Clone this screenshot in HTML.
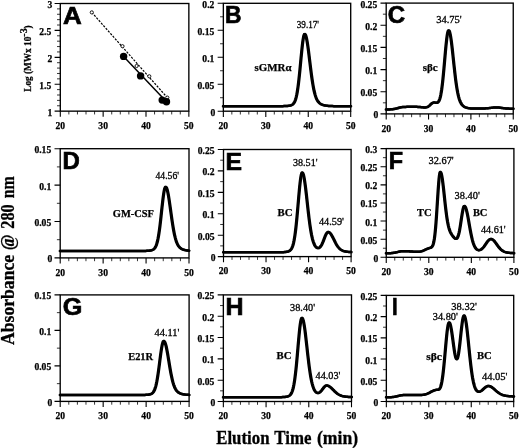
<!DOCTYPE html>
<html><head><meta charset="utf-8"><title>Figure</title>
<style>html,body{margin:0;padding:0;background:#fff}svg{display:block;will-change:transform}</style></head>
<body>
<svg width="520" height="448" viewBox="0 0 520 448">
<rect width="520" height="448" fill="#fff"/>
<g>
<rect x="60.30" y="3.50" width="128.55" height="107.65" fill="none" stroke="#000" stroke-width="1.35"/>
<path d="M60.30 111.15v5.7M103.15 111.15v5.7M146.00 111.15v5.7M188.85 111.15v5.7M60.30 111.15h-5.7M60.30 84.24h-5.7M60.30 57.33h-5.7M60.30 30.41h-5.7M60.30 3.50h-5.7" stroke="#000" stroke-width="1.1" fill="none"/>
<path d="M68.87 111.15v3.3M77.44 111.15v3.3M86.01 111.15v3.3M94.58 111.15v3.3M111.72 111.15v3.3M120.29 111.15v3.3M128.86 111.15v3.3M137.43 111.15v3.3M154.57 111.15v3.3M163.14 111.15v3.3M171.71 111.15v3.3M180.28 111.15v3.3M60.30 105.77h-3.3M60.30 100.39h-3.3M60.30 95.00h-3.3M60.30 89.62h-3.3M60.30 78.85h-3.3M60.30 73.47h-3.3M60.30 68.09h-3.3M60.30 62.71h-3.3M60.30 51.94h-3.3M60.30 46.56h-3.3M60.30 41.18h-3.3M60.30 35.80h-3.3M60.30 25.03h-3.3M60.30 19.65h-3.3M60.30 14.27h-3.3M60.30 8.88h-3.3" stroke="#000" stroke-width="0.8" fill="none"/>
<g font-family='"Liberation Serif", serif' font-weight="bold" font-size="9.6" fill="#000" stroke="#000" stroke-width="0.25">
<text x="60.30" y="128.75" text-anchor="middle">20</text>
<text x="103.15" y="128.75" text-anchor="middle">30</text>
<text x="146.00" y="128.75" text-anchor="middle">40</text>
<text x="188.85" y="128.75" text-anchor="middle">50</text>
<text x="52.30" y="115.65" text-anchor="end">1</text>
<text x="51.30" y="88.74" text-anchor="end">1.5</text>
<text x="52.30" y="61.83" text-anchor="end">2</text>
<text x="51.30" y="34.91" text-anchor="end">2.5</text>
<text x="52.30" y="8.00" text-anchor="end">3</text>
</g>
<text transform="translate(63.10 24.00) scale(1.081 1.017)" font-family='"Liberation Sans", sans-serif' font-weight="bold" font-size="24" fill="#000" stroke="#000" stroke-width="0.7" stroke-linejoin="miter">A</text>
</g>
<g>
<rect x="223.35" y="3.30" width="127.35" height="107.90" fill="none" stroke="#000" stroke-width="1.35"/>
<path d="M223.35 111.20v5.7M265.80 111.20v5.7M308.25 111.20v5.7M350.70 111.20v5.7M223.35 111.20h-5.7M223.35 84.22h-5.7M223.35 57.25h-5.7M223.35 30.28h-5.7M223.35 3.30h-5.7" stroke="#000" stroke-width="1.1" fill="none"/>
<path d="M231.84 111.20v3.3M240.33 111.20v3.3M248.82 111.20v3.3M257.31 111.20v3.3M274.29 111.20v3.3M282.78 111.20v3.3M291.27 111.20v3.3M299.76 111.20v3.3M316.74 111.20v3.3M325.23 111.20v3.3M333.72 111.20v3.3M342.21 111.20v3.3M223.35 97.71h-3.3M223.35 70.74h-3.3M223.35 43.76h-3.3M223.35 16.79h-3.3" stroke="#000" stroke-width="0.8" fill="none"/>
<g font-family='"Liberation Serif", serif' font-weight="bold" font-size="9.6" fill="#000" stroke="#000" stroke-width="0.25">
<text x="223.35" y="128.80" text-anchor="middle">20</text>
<text x="265.80" y="128.80" text-anchor="middle">30</text>
<text x="308.25" y="128.80" text-anchor="middle">40</text>
<text x="350.70" y="128.80" text-anchor="middle">50</text>
<text x="215.35" y="115.70" text-anchor="end">0</text>
<text x="214.35" y="88.72" text-anchor="end">0.05</text>
<text x="214.35" y="61.75" text-anchor="end">0.1</text>
<text x="214.35" y="34.78" text-anchor="end">0.15</text>
<text x="214.35" y="7.80" text-anchor="end">0.2</text>
</g>
<text transform="translate(225.03 22.70) scale(0.950 1.017)" font-family='"Liberation Sans", sans-serif' font-weight="bold" font-size="24" fill="#000" stroke="#000" stroke-width="0.7" stroke-linejoin="miter">B</text>
<g fill="none" stroke="#000" stroke-width="2.5" stroke-linejoin="round" stroke-linecap="round"><polyline points="223.00,106.18 223.42,106.18 223.85,106.18 224.27,106.18 224.70,106.18 225.12,106.18 225.55,106.18 225.97,106.18 226.40,106.18 226.82,106.18 227.25,106.18 227.67,106.18 228.09,106.18 228.52,106.18 228.94,106.18 229.37,106.18 229.79,106.18 230.22,106.18 230.64,106.18 231.07,106.18 231.49,106.18 231.91,106.18 232.34,106.18 232.76,106.18 233.19,106.18 233.61,106.18 234.04,106.18 234.46,106.18 234.89,106.18 235.31,106.18 235.73,106.18 236.16,106.18 236.58,106.18 237.01,106.18 237.43,106.18 237.86,106.18 238.28,106.18 238.71,106.18 239.13,106.18 239.56,106.18 239.98,106.18 240.40,106.18 240.83,106.18 241.25,106.18 241.68,106.18 242.10,106.18 242.53,106.18 242.95,106.18 243.38,106.18 243.80,106.18 244.22,106.18 244.65,106.18 245.07,106.18 245.50,106.18 245.92,106.18 246.35,106.18 246.77,106.18 247.20,106.18 247.62,106.18 248.05,106.18 248.47,106.18 248.89,106.18 249.32,106.18 249.74,106.18 250.17,106.18 250.59,106.18 251.02,106.18 251.44,106.18 251.87,106.18 252.29,106.18 252.72,106.18 253.14,106.18 253.56,106.18 253.99,106.18 254.41,106.18 254.84,106.18 255.26,106.18 255.69,106.18 256.11,106.18 256.54,106.18 256.96,106.18 257.38,106.18 257.81,106.18 258.23,106.18 258.66,106.18 259.08,106.18 259.51,106.18 259.93,106.18 260.36,106.18 260.78,106.18 261.20,106.18 261.63,106.18 262.05,106.18 262.48,106.18 262.90,106.18 263.33,106.18 263.75,106.18 264.18,106.18 264.60,106.18 265.03,106.18 265.45,106.18 265.87,106.18 266.30,106.18 266.72,106.18 267.15,106.18 267.57,106.18 268.00,106.18 268.42,106.18 268.85,106.18 269.27,106.18 269.69,106.18 270.12,106.18 270.54,106.18 270.97,106.18 271.39,106.18 271.82,106.18 272.24,106.18 272.67,106.18 273.09,106.18 273.52,106.18 273.94,106.18 274.36,106.18 274.79,106.18 275.21,106.18 275.64,106.18 276.06,106.18 276.49,106.18 276.91,106.18 277.34,106.18 277.76,106.18 278.18,106.18 278.61,106.18 279.03,106.17 279.46,106.17 279.88,106.17 280.31,106.17 280.73,106.16 281.16,106.16 281.58,106.15 282.01,106.15 282.43,106.14 282.85,106.13 283.28,106.12 283.70,106.11 284.13,106.10 284.55,106.09 284.98,106.07 285.40,106.05 285.83,106.03 286.25,106.00 286.67,105.97 287.10,105.94 287.52,105.90 287.95,105.85 288.37,105.80 288.80,105.74 289.22,105.67 289.65,105.58 290.07,105.48 290.50,105.35 290.92,105.20 291.34,105.02 291.77,104.79 292.19,104.51 292.62,104.17 293.04,103.74 293.47,103.20 293.89,102.54 294.32,101.74 294.74,100.75 295.16,99.56 295.59,98.13 296.01,96.44 296.44,94.46 296.86,92.16 297.29,89.53 297.71,86.56 298.14,83.25 298.56,79.62 298.99,75.70 299.41,71.53 299.83,67.17 300.26,62.70 300.68,58.21 301.11,53.80 301.53,49.59 301.96,45.68 302.38,42.18 302.81,39.21 303.23,36.85 303.65,35.17 304.08,34.24 304.50,34.07 304.93,34.47 305.35,35.35 305.78,36.71 306.20,38.50 306.63,40.69 307.05,43.23 307.48,46.08 307.90,49.18 308.32,52.46 308.75,55.88 309.17,59.37 309.60,62.88 310.02,66.37 310.45,69.78 310.87,73.08 311.30,76.23 311.72,79.21 312.14,82.01 312.57,84.60 312.99,86.99 313.42,89.17 313.84,91.14 314.27,92.91 314.69,94.49 315.12,95.90 315.54,97.14 315.97,98.23 316.39,99.19 316.81,100.02 317.24,100.75 317.66,101.39 318.09,101.94 318.51,102.42 318.94,102.84 319.36,103.21 319.79,103.53 320.21,103.82 320.63,104.07 321.06,104.29 321.48,104.49 321.91,104.67 322.33,104.83 322.76,104.97 323.18,105.10 323.61,105.21 324.03,105.32 324.46,105.41 324.88,105.50 325.30,105.57 325.73,105.64 326.15,105.70 326.58,105.76 327.00,105.81 327.43,105.86 327.85,105.90 328.28,105.93 328.70,105.96 329.12,105.99 329.55,106.02 329.97,106.04 330.40,106.06 330.82,106.07 331.25,106.09 331.67,106.10 332.10,106.11 332.52,106.12 332.95,106.13 333.37,106.14 333.79,106.15 334.22,106.15 334.64,106.16 335.07,106.16 335.49,106.16 335.92,106.17 336.34,106.17 336.77,106.17 337.19,106.17 337.61,106.18 338.04,106.18 338.46,106.18 338.89,106.18 339.31,106.18 339.74,106.18 340.16,106.18 340.59,106.18 341.01,106.18 341.44,106.18 341.86,106.18 342.28,106.18 342.71,106.18 343.13,106.18 343.56,106.18 343.98,106.18 344.41,106.18 344.83,106.18 345.26,106.18 345.68,106.18 346.10,106.18 346.53,106.18 346.95,106.18 347.38,106.18 347.80,106.18 348.23,106.18 348.65,106.18 349.08,106.18 349.50,106.18 349.93,106.18 350.35,106.18"/><polyline points="223.70,106.18 224.12,106.18 224.55,106.18 224.97,106.18 225.40,106.18 225.82,106.18 226.25,106.18 226.67,106.18 227.10,106.18 227.52,106.18 227.94,106.18 228.37,106.18 228.79,106.18 229.22,106.18 229.64,106.18 230.07,106.18 230.49,106.18 230.92,106.18 231.34,106.18 231.77,106.18 232.19,106.18 232.61,106.18 233.04,106.18 233.46,106.18 233.89,106.18 234.31,106.18 234.74,106.18 235.16,106.18 235.59,106.18 236.01,106.18 236.43,106.18 236.86,106.18 237.28,106.18 237.71,106.18 238.13,106.18 238.56,106.18 238.98,106.18 239.41,106.18 239.83,106.18 240.26,106.18 240.68,106.18 241.10,106.18 241.53,106.18 241.95,106.18 242.38,106.18 242.80,106.18 243.23,106.18 243.65,106.18 244.08,106.18 244.50,106.18 244.92,106.18 245.35,106.18 245.77,106.18 246.20,106.18 246.62,106.18 247.05,106.18 247.47,106.18 247.90,106.18 248.32,106.18 248.75,106.18 249.17,106.18 249.59,106.18 250.02,106.18 250.44,106.18 250.87,106.18 251.29,106.18 251.72,106.18 252.14,106.18 252.57,106.18 252.99,106.18 253.41,106.18 253.84,106.18 254.26,106.18 254.69,106.18 255.11,106.18 255.54,106.18 255.96,106.18 256.39,106.18 256.81,106.18 257.24,106.18 257.66,106.18 258.08,106.18 258.51,106.18 258.93,106.18 259.36,106.18 259.78,106.18 260.21,106.18 260.63,106.18 261.06,106.18 261.48,106.18 261.91,106.18 262.33,106.18 262.75,106.18 263.18,106.18 263.60,106.18 264.03,106.18 264.45,106.18 264.88,106.18 265.30,106.18 265.73,106.18 266.15,106.18 266.57,106.18 267.00,106.18 267.42,106.18 267.85,106.18 268.27,106.18 268.70,106.18 269.12,106.18 269.55,106.18 269.97,106.18 270.39,106.18 270.82,106.18 271.24,106.18 271.67,106.18 272.09,106.18 272.52,106.18 272.94,106.18 273.37,106.18 273.79,106.18 274.22,106.18 274.64,106.18 275.06,106.18 275.49,106.18 275.91,106.18 276.34,106.18 276.76,106.18 277.19,106.18 277.61,106.18 278.04,106.18 278.46,106.18 278.88,106.18 279.31,106.18 279.73,106.17 280.16,106.17 280.58,106.17 281.01,106.17 281.43,106.16 281.86,106.16 282.28,106.15 282.71,106.15 283.13,106.14 283.55,106.13 283.98,106.12 284.40,106.11 284.83,106.10 285.25,106.09 285.68,106.07 286.10,106.05 286.53,106.03 286.95,106.00 287.38,105.97 287.80,105.94 288.22,105.90 288.65,105.85 289.07,105.80 289.50,105.74 289.92,105.67 290.35,105.58 290.77,105.48 291.20,105.35 291.62,105.20 292.04,105.02 292.47,104.79 292.89,104.51 293.32,104.17 293.74,103.74 294.17,103.20 294.59,102.54 295.02,101.74 295.44,100.75 295.87,99.56 296.29,98.13 296.71,96.44 297.14,94.46 297.56,92.16 297.99,89.53 298.41,86.56 298.84,83.25 299.26,79.62 299.69,75.70 300.11,71.53 300.53,67.17 300.96,62.70 301.38,58.21 301.81,53.80 302.23,49.59 302.66,45.68 303.08,42.18 303.51,39.21 303.93,36.85 304.36,35.17 304.78,34.24 305.20,34.07 305.63,34.47 306.05,35.35 306.48,36.71 306.90,38.50 307.33,40.69 307.75,43.23 308.18,46.08 308.60,49.18 309.02,52.46 309.45,55.88 309.87,59.37 310.30,62.88 310.72,66.37 311.15,69.78 311.57,73.08 312.00,76.23 312.42,79.21 312.85,82.01 313.27,84.60 313.69,86.99 314.12,89.17 314.54,91.14 314.97,92.91 315.39,94.49 315.82,95.90 316.24,97.14 316.67,98.23 317.09,99.19 317.51,100.02 317.94,100.75 318.36,101.39 318.79,101.94 319.21,102.42 319.64,102.84 320.06,103.21 320.49,103.53 320.91,103.82 321.34,104.07 321.76,104.29 322.18,104.49 322.61,104.67 323.03,104.83 323.46,104.97 323.88,105.10 324.31,105.21 324.73,105.32 325.16,105.41 325.58,105.50 326.00,105.57 326.43,105.64 326.85,105.70 327.28,105.76 327.70,105.81 328.13,105.86 328.55,105.90 328.98,105.93 329.40,105.96 329.83,105.99 330.25,106.02 330.67,106.04 331.10,106.06 331.52,106.07 331.95,106.09 332.37,106.10 332.80,106.11 333.22,106.12 333.65,106.13 334.07,106.14 334.49,106.15 334.92,106.15 335.34,106.16 335.77,106.16 336.19,106.16 336.62,106.17 337.04,106.17 337.47,106.17 337.89,106.17 338.31,106.18 338.74,106.18 339.16,106.18 339.59,106.18 340.01,106.18 340.44,106.18 340.86,106.18 341.29,106.18 341.71,106.18 342.14,106.18 342.56,106.18 342.98,106.18 343.41,106.18 343.83,106.18 344.26,106.18 344.68,106.18 345.11,106.18 345.53,106.18 345.96,106.18 346.38,106.18 346.81,106.18 347.23,106.18 347.65,106.18 348.08,106.18 348.50,106.18 348.93,106.18 349.35,106.18 349.78,106.18 350.20,106.18 350.63,106.18 351.05,106.18"/></g>
</g>
<g>
<rect x="386.20" y="3.10" width="127.05" height="110.80" fill="none" stroke="#000" stroke-width="1.35"/>
<path d="M386.20 113.90v5.7M428.55 113.90v5.7M470.90 113.90v5.7M513.25 113.90v5.7M386.20 113.90h-5.7M386.20 91.74h-5.7M386.20 69.58h-5.7M386.20 47.42h-5.7M386.20 25.26h-5.7M386.20 3.10h-5.7" stroke="#000" stroke-width="1.1" fill="none"/>
<path d="M394.67 113.90v3.3M403.14 113.90v3.3M411.61 113.90v3.3M420.08 113.90v3.3M437.02 113.90v3.3M445.49 113.90v3.3M453.96 113.90v3.3M462.43 113.90v3.3M479.37 113.90v3.3M487.84 113.90v3.3M496.31 113.90v3.3M504.78 113.90v3.3M386.20 102.82h-3.3M386.20 80.66h-3.3M386.20 58.50h-3.3M386.20 36.34h-3.3M386.20 14.18h-3.3" stroke="#000" stroke-width="0.8" fill="none"/>
<g font-family='"Liberation Serif", serif' font-weight="bold" font-size="9.6" fill="#000" stroke="#000" stroke-width="0.25">
<text x="386.20" y="131.50" text-anchor="middle">20</text>
<text x="428.55" y="131.50" text-anchor="middle">30</text>
<text x="470.90" y="131.50" text-anchor="middle">40</text>
<text x="513.25" y="131.50" text-anchor="middle">50</text>
<text x="378.20" y="118.40" text-anchor="end">0</text>
<text x="377.20" y="96.24" text-anchor="end">0.05</text>
<text x="377.20" y="74.08" text-anchor="end">0.1</text>
<text x="377.20" y="51.92" text-anchor="end">0.15</text>
<text x="377.20" y="29.76" text-anchor="end">0.2</text>
<text x="377.20" y="7.60" text-anchor="end">0.25</text>
</g>
<text transform="translate(387.87 22.62) scale(1.001 0.989)" font-family='"Liberation Sans", sans-serif' font-weight="bold" font-size="24" fill="#000" stroke="#000" stroke-width="0.7" stroke-linejoin="miter">C</text>
<g fill="none" stroke="#000" stroke-width="2.5" stroke-linejoin="round" stroke-linecap="round"><polyline points="385.85,109.46 386.27,109.46 386.70,109.45 387.12,109.45 387.54,109.44 387.97,109.43 388.39,109.43 388.81,109.42 389.24,109.40 389.66,109.39 390.08,109.37 390.51,109.34 390.93,109.32 391.36,109.29 391.78,109.25 392.20,109.21 392.63,109.16 393.05,109.10 393.47,109.04 393.90,108.97 394.32,108.90 394.74,108.81 395.17,108.72 395.59,108.62 396.01,108.52 396.44,108.41 396.86,108.30 397.28,108.18 397.71,108.06 398.13,107.94 398.55,107.82 398.98,107.71 399.40,107.59 399.83,107.49 400.25,107.39 400.67,107.29 401.10,107.21 401.52,107.14 401.94,107.09 402.37,107.04 402.79,107.01 403.21,106.99 403.64,106.97 404.06,106.95 404.48,106.93 404.91,106.91 405.33,106.90 405.75,106.88 406.18,106.87 406.60,106.86 407.02,106.85 407.45,106.84 407.87,106.83 408.30,106.82 408.72,106.81 409.14,106.80 409.57,106.80 409.99,106.79 410.41,106.79 410.84,106.78 411.26,106.78 411.68,106.78 412.11,106.78 412.53,106.78 412.95,106.78 413.38,106.78 413.80,106.79 414.22,106.79 414.65,106.80 415.07,106.81 415.49,106.82 415.92,106.84 416.34,106.85 416.77,106.87 417.19,106.89 417.61,106.91 418.04,106.94 418.46,106.97 418.88,107.00 419.31,107.03 419.73,107.07 420.15,107.11 420.58,107.15 421.00,107.19 421.42,107.24 421.85,107.28 422.27,107.32 422.69,107.36 423.12,107.40 423.54,107.43 423.96,107.45 424.39,107.45 424.81,107.45 425.24,107.42 425.66,107.36 426.08,107.28 426.51,107.16 426.93,107.00 427.35,106.81 427.78,106.57 428.20,106.29 428.62,105.97 429.05,105.61 429.47,105.23 429.89,104.83 430.32,104.42 430.74,104.02 431.16,103.65 431.59,103.31 432.01,103.02 432.43,102.80 432.86,102.64 433.28,102.56 433.71,102.53 434.13,102.54 434.55,102.57 434.98,102.62 435.40,102.68 435.82,102.72 436.25,102.73 436.67,102.69 437.09,102.56 437.52,102.32 437.94,101.93 438.36,101.37 438.79,100.59 439.21,99.57 439.63,98.26 440.06,96.62 440.48,94.64 440.90,92.28 441.33,89.53 441.75,86.38 442.18,82.83 442.60,78.92 443.02,74.68 443.45,70.15 443.87,65.42 444.29,60.58 444.72,55.72 445.14,50.97 445.56,46.44 445.99,42.27 446.41,38.56 446.83,35.45 447.26,33.01 447.68,31.34 448.10,30.49 448.53,30.46 448.95,31.05 449.38,32.21 449.80,33.93 450.22,36.15 450.65,38.83 451.07,41.91 451.49,45.31 451.92,48.98 452.34,52.83 452.76,56.79 453.19,60.80 453.61,64.79 454.03,68.71 454.46,72.49 454.88,76.11 455.30,79.53 455.73,82.72 456.15,85.67 456.57,88.38 457.00,90.83 457.42,93.04 457.84,95.01 458.27,96.75 458.69,98.29 459.12,99.64 459.54,100.82 459.96,101.84 460.39,102.72 460.81,103.48 461.23,104.14 461.66,104.71 462.08,105.21 462.50,105.63 462.93,106.00 463.35,106.32 463.77,106.60 464.20,106.85 464.62,107.07 465.04,107.26 465.47,107.43 465.89,107.58 466.31,107.71 466.74,107.83 467.16,107.93 467.59,108.03 468.01,108.11 468.43,108.18 468.86,108.25 469.28,108.30 469.70,108.35 470.13,108.39 470.55,108.43 470.97,108.46 471.40,108.49 471.82,108.51 472.24,108.53 472.67,108.54 473.09,108.56 473.51,108.56 473.94,108.57 474.36,108.58 474.78,108.58 475.21,108.58 475.63,108.58 476.06,108.58 476.48,108.58 476.90,108.57 477.33,108.57 477.75,108.57 478.17,108.56 478.60,108.56 479.02,108.55 479.44,108.54 479.87,108.54 480.29,108.53 480.71,108.52 481.14,108.52 481.56,108.51 481.98,108.50 482.41,108.49 482.83,108.47 483.25,108.46 483.68,108.45 484.10,108.43 484.53,108.41 484.95,108.39 485.37,108.37 485.80,108.35 486.22,108.32 486.64,108.29 487.07,108.25 487.49,108.22 487.91,108.18 488.34,108.13 488.76,108.09 489.18,108.04 489.61,107.99 490.03,107.93 490.45,107.88 490.88,107.83 491.30,107.77 491.72,107.72 492.15,107.67 492.57,107.62 493.00,107.57 493.42,107.53 493.84,107.49 494.27,107.46 494.69,107.44 495.11,107.42 495.54,107.42 495.96,107.41 496.38,107.42 496.81,107.44 497.23,107.46 497.65,107.49 498.08,107.52 498.50,107.57 498.92,107.61 499.35,107.66 499.77,107.72 500.19,107.78 500.62,107.84 501.04,107.90 501.47,107.96 501.89,108.02 502.31,108.07 502.74,108.13 503.16,108.19 503.58,108.24 504.01,108.29 504.43,108.33 504.85,108.37 505.28,108.41 505.70,108.45 506.12,108.48 506.55,108.51 506.97,108.54 507.39,108.56 507.82,108.58 508.24,108.60 508.66,108.62 509.09,108.63 509.51,108.65 509.94,108.66 510.36,108.67 510.78,108.68 511.21,108.69 511.63,108.70 512.05,108.71 512.48,108.72 512.90,108.73"/><polyline points="386.55,109.46 386.97,109.46 387.40,109.45 387.82,109.45 388.24,109.44 388.67,109.43 389.09,109.43 389.51,109.42 389.94,109.40 390.36,109.39 390.79,109.37 391.21,109.34 391.63,109.32 392.06,109.29 392.48,109.25 392.90,109.21 393.33,109.16 393.75,109.10 394.17,109.04 394.60,108.97 395.02,108.90 395.44,108.81 395.87,108.72 396.29,108.62 396.71,108.52 397.14,108.41 397.56,108.30 397.98,108.18 398.41,108.06 398.83,107.94 399.25,107.82 399.68,107.71 400.10,107.59 400.53,107.49 400.95,107.39 401.37,107.29 401.80,107.21 402.22,107.14 402.64,107.09 403.07,107.04 403.49,107.01 403.91,106.99 404.34,106.97 404.76,106.95 405.18,106.93 405.61,106.91 406.03,106.90 406.45,106.88 406.88,106.87 407.30,106.86 407.73,106.85 408.15,106.84 408.57,106.83 409.00,106.82 409.42,106.81 409.84,106.80 410.27,106.80 410.69,106.79 411.11,106.79 411.54,106.78 411.96,106.78 412.38,106.78 412.81,106.78 413.23,106.78 413.65,106.78 414.08,106.78 414.50,106.79 414.92,106.79 415.35,106.80 415.77,106.81 416.19,106.82 416.62,106.84 417.04,106.85 417.47,106.87 417.89,106.89 418.31,106.91 418.74,106.94 419.16,106.97 419.58,107.00 420.01,107.03 420.43,107.07 420.85,107.11 421.28,107.15 421.70,107.19 422.12,107.24 422.55,107.28 422.97,107.32 423.39,107.36 423.82,107.40 424.24,107.43 424.67,107.45 425.09,107.45 425.51,107.45 425.94,107.42 426.36,107.36 426.78,107.28 427.21,107.16 427.63,107.00 428.05,106.81 428.48,106.57 428.90,106.29 429.32,105.97 429.75,105.61 430.17,105.23 430.59,104.83 431.02,104.42 431.44,104.02 431.86,103.65 432.29,103.31 432.71,103.02 433.13,102.80 433.56,102.64 433.98,102.56 434.41,102.53 434.83,102.54 435.25,102.57 435.68,102.62 436.10,102.68 436.52,102.72 436.95,102.73 437.37,102.69 437.79,102.56 438.22,102.32 438.64,101.93 439.06,101.37 439.49,100.59 439.91,99.57 440.33,98.26 440.76,96.62 441.18,94.64 441.61,92.28 442.03,89.53 442.45,86.38 442.88,82.83 443.30,78.92 443.72,74.68 444.15,70.15 444.57,65.42 444.99,60.58 445.42,55.72 445.84,50.97 446.26,46.44 446.69,42.27 447.11,38.56 447.53,35.45 447.96,33.01 448.38,31.34 448.80,30.49 449.23,30.46 449.65,31.05 450.08,32.21 450.50,33.93 450.92,36.15 451.35,38.83 451.77,41.91 452.19,45.31 452.62,48.98 453.04,52.83 453.46,56.79 453.89,60.80 454.31,64.79 454.73,68.71 455.16,72.49 455.58,76.11 456.00,79.53 456.43,82.72 456.85,85.67 457.27,88.38 457.70,90.83 458.12,93.04 458.55,95.01 458.97,96.75 459.39,98.29 459.82,99.64 460.24,100.82 460.66,101.84 461.09,102.72 461.51,103.48 461.93,104.14 462.36,104.71 462.78,105.21 463.20,105.63 463.63,106.00 464.05,106.32 464.47,106.60 464.90,106.85 465.32,107.07 465.74,107.26 466.17,107.43 466.59,107.58 467.01,107.71 467.44,107.83 467.86,107.93 468.29,108.03 468.71,108.11 469.13,108.18 469.56,108.25 469.98,108.30 470.40,108.35 470.83,108.39 471.25,108.43 471.67,108.46 472.10,108.49 472.52,108.51 472.94,108.53 473.37,108.54 473.79,108.56 474.21,108.56 474.64,108.57 475.06,108.58 475.49,108.58 475.91,108.58 476.33,108.58 476.76,108.58 477.18,108.58 477.60,108.57 478.03,108.57 478.45,108.57 478.87,108.56 479.30,108.56 479.72,108.55 480.14,108.54 480.57,108.54 480.99,108.53 481.41,108.52 481.84,108.52 482.26,108.51 482.68,108.50 483.11,108.49 483.53,108.47 483.96,108.46 484.38,108.45 484.80,108.43 485.23,108.41 485.65,108.39 486.07,108.37 486.50,108.35 486.92,108.32 487.34,108.29 487.77,108.25 488.19,108.22 488.61,108.18 489.04,108.13 489.46,108.09 489.88,108.04 490.31,107.99 490.73,107.93 491.15,107.88 491.58,107.83 492.00,107.77 492.43,107.72 492.85,107.67 493.27,107.62 493.70,107.57 494.12,107.53 494.54,107.49 494.97,107.46 495.39,107.44 495.81,107.42 496.24,107.42 496.66,107.41 497.08,107.42 497.51,107.44 497.93,107.46 498.35,107.49 498.78,107.52 499.20,107.57 499.62,107.61 500.05,107.66 500.47,107.72 500.90,107.78 501.32,107.84 501.74,107.90 502.17,107.96 502.59,108.02 503.01,108.07 503.44,108.13 503.86,108.19 504.28,108.24 504.71,108.29 505.13,108.33 505.55,108.37 505.98,108.41 506.40,108.45 506.82,108.48 507.25,108.51 507.67,108.54 508.09,108.56 508.52,108.58 508.94,108.60 509.37,108.62 509.79,108.63 510.21,108.65 510.64,108.66 511.06,108.67 511.48,108.68 511.91,108.69 512.33,108.70 512.75,108.71 513.18,108.72 513.60,108.73"/></g>
</g>
<g>
<rect x="60.20" y="148.70" width="128.80" height="109.20" fill="none" stroke="#000" stroke-width="1.35"/>
<path d="M60.20 257.90v5.7M103.13 257.90v5.7M146.07 257.90v5.7M189.00 257.90v5.7M60.20 257.90h-5.7M60.20 221.50h-5.7M60.20 185.10h-5.7M60.20 148.70h-5.7" stroke="#000" stroke-width="1.1" fill="none"/>
<path d="M68.79 257.90v3.3M77.37 257.90v3.3M85.96 257.90v3.3M94.55 257.90v3.3M111.72 257.90v3.3M120.31 257.90v3.3M128.89 257.90v3.3M137.48 257.90v3.3M154.65 257.90v3.3M163.24 257.90v3.3M171.83 257.90v3.3M180.41 257.90v3.3M60.20 239.70h-3.3M60.20 203.30h-3.3M60.20 166.90h-3.3" stroke="#000" stroke-width="0.8" fill="none"/>
<g font-family='"Liberation Serif", serif' font-weight="bold" font-size="9.6" fill="#000" stroke="#000" stroke-width="0.25">
<text x="60.20" y="275.50" text-anchor="middle">20</text>
<text x="103.13" y="275.50" text-anchor="middle">30</text>
<text x="146.07" y="275.50" text-anchor="middle">40</text>
<text x="189.00" y="275.50" text-anchor="middle">50</text>
<text x="52.20" y="262.40" text-anchor="end">0</text>
<text x="51.20" y="226.00" text-anchor="end">0.05</text>
<text x="51.20" y="189.60" text-anchor="end">0.1</text>
<text x="51.20" y="153.20" text-anchor="end">0.15</text>
</g>
<text transform="translate(62.55 168.80) scale(0.999 1.017)" font-family='"Liberation Sans", sans-serif' font-weight="bold" font-size="24" fill="#000" stroke="#000" stroke-width="0.7" stroke-linejoin="miter">D</text>
<g fill="none" stroke="#000" stroke-width="2.5" stroke-linejoin="round" stroke-linecap="round"><polyline points="59.85,250.98 60.28,250.98 60.71,250.98 61.14,250.98 61.57,250.98 62.00,250.98 62.43,250.98 62.86,250.98 63.28,250.98 63.71,250.98 64.14,250.98 64.57,250.98 65.00,250.98 65.43,250.98 65.86,250.98 66.29,250.98 66.72,250.98 67.15,250.98 67.58,250.98 68.01,250.98 68.44,250.98 68.87,250.98 69.30,250.98 69.72,250.98 70.15,250.98 70.58,250.98 71.01,250.98 71.44,250.98 71.87,250.98 72.30,250.98 72.73,250.98 73.16,250.98 73.59,250.98 74.02,250.98 74.45,250.98 74.88,250.98 75.31,250.98 75.74,250.98 76.16,250.98 76.59,250.98 77.02,250.98 77.45,250.98 77.88,250.98 78.31,250.98 78.74,250.98 79.17,250.98 79.60,250.98 80.03,250.98 80.46,250.98 80.89,250.98 81.32,250.98 81.75,250.98 82.18,250.98 82.60,250.98 83.03,250.98 83.46,250.98 83.89,250.98 84.32,250.98 84.75,250.98 85.18,250.98 85.61,250.98 86.04,250.98 86.47,250.98 86.90,250.98 87.33,250.98 87.76,250.98 88.19,250.98 88.62,250.98 89.04,250.98 89.47,250.98 89.90,250.98 90.33,250.98 90.76,250.98 91.19,250.98 91.62,250.98 92.05,250.98 92.48,250.98 92.91,250.98 93.34,250.98 93.77,250.98 94.20,250.98 94.63,250.98 95.06,250.98 95.48,250.98 95.91,250.98 96.34,250.98 96.77,250.98 97.20,250.98 97.63,250.98 98.06,250.98 98.49,250.98 98.92,250.98 99.35,250.98 99.78,250.98 100.21,250.98 100.64,250.98 101.07,250.98 101.50,250.98 101.92,250.98 102.35,250.98 102.78,250.98 103.21,250.98 103.64,250.98 104.07,250.98 104.50,250.98 104.93,250.98 105.36,250.98 105.79,250.98 106.22,250.98 106.65,250.98 107.08,250.98 107.51,250.98 107.94,250.98 108.36,250.98 108.79,250.98 109.22,250.98 109.65,250.98 110.08,250.98 110.51,250.98 110.94,250.98 111.37,250.98 111.80,250.98 112.23,250.98 112.66,250.98 113.09,250.98 113.52,250.98 113.95,250.98 114.38,250.98 114.80,250.98 115.23,250.98 115.66,250.98 116.09,250.98 116.52,250.98 116.95,250.98 117.38,250.98 117.81,250.98 118.24,250.98 118.67,250.98 119.10,250.98 119.53,250.98 119.96,250.98 120.39,250.98 120.82,250.98 121.24,250.98 121.67,250.98 122.10,250.98 122.53,250.98 122.96,250.98 123.39,250.98 123.82,250.98 124.25,250.98 124.68,250.98 125.11,250.98 125.54,250.98 125.97,250.98 126.40,250.98 126.83,250.98 127.26,250.98 127.68,250.98 128.11,250.98 128.54,250.98 128.97,250.98 129.40,250.98 129.83,250.98 130.26,250.98 130.69,250.98 131.12,250.98 131.55,250.98 131.98,250.98 132.41,250.98 132.84,250.98 133.27,250.98 133.70,250.98 134.12,250.98 134.55,250.98 134.98,250.98 135.41,250.98 135.84,250.98 136.27,250.98 136.70,250.98 137.13,250.98 137.56,250.98 137.99,250.98 138.42,250.98 138.85,250.98 139.28,250.98 139.71,250.98 140.14,250.97 140.56,250.97 140.99,250.97 141.42,250.97 141.85,250.96 142.28,250.96 142.71,250.95 143.14,250.95 143.57,250.94 144.00,250.93 144.43,250.92 144.86,250.91 145.29,250.90 145.72,250.88 146.15,250.86 146.58,250.84 147.00,250.82 147.43,250.79 147.86,250.76 148.29,250.73 148.72,250.69 149.15,250.64 149.58,250.58 150.01,250.52 150.44,250.44 150.87,250.35 151.30,250.24 151.73,250.10 152.16,249.93 152.59,249.73 153.02,249.47 153.44,249.16 153.87,248.77 154.30,248.28 154.73,247.69 155.16,246.95 155.59,246.06 156.02,244.99 156.45,243.70 156.88,242.17 157.31,240.38 157.74,238.31 158.17,235.95 158.60,233.28 159.03,230.31 159.46,227.06 159.88,223.55 160.31,219.82 160.74,215.94 161.17,211.96 161.60,207.98 162.03,204.08 162.46,200.36 162.89,196.92 163.32,193.86 163.75,191.26 164.18,189.23 164.61,187.80 165.04,187.04 165.47,186.96 165.90,187.35 166.32,188.18 166.75,189.42 167.18,191.05 167.61,193.03 168.04,195.32 168.47,197.87 168.90,200.64 169.33,203.57 169.76,206.61 170.19,209.72 170.62,212.84 171.05,215.93 171.48,218.95 171.91,221.87 172.34,224.65 172.76,227.29 173.19,229.75 173.62,232.04 174.05,234.14 174.48,236.05 174.91,237.79 175.34,239.34 175.77,240.73 176.20,241.97 176.63,243.06 177.06,244.01 177.49,244.85 177.92,245.58 178.35,246.22 178.78,246.78 179.20,247.26 179.63,247.68 180.06,248.05 180.49,248.38 180.92,248.66 181.35,248.91 181.78,249.13 182.21,249.32 182.64,249.50 183.07,249.65 183.50,249.79 183.93,249.92 184.36,250.03 184.79,250.13 185.22,250.22 185.64,250.31 186.07,250.38 186.50,250.45 186.93,250.51 187.36,250.56 187.79,250.61 188.22,250.66 188.65,250.70"/><polyline points="60.55,250.98 60.98,250.98 61.41,250.98 61.84,250.98 62.27,250.98 62.70,250.98 63.13,250.98 63.56,250.98 63.98,250.98 64.41,250.98 64.84,250.98 65.27,250.98 65.70,250.98 66.13,250.98 66.56,250.98 66.99,250.98 67.42,250.98 67.85,250.98 68.28,250.98 68.71,250.98 69.14,250.98 69.57,250.98 70.00,250.98 70.42,250.98 70.85,250.98 71.28,250.98 71.71,250.98 72.14,250.98 72.57,250.98 73.00,250.98 73.43,250.98 73.86,250.98 74.29,250.98 74.72,250.98 75.15,250.98 75.58,250.98 76.01,250.98 76.44,250.98 76.86,250.98 77.29,250.98 77.72,250.98 78.15,250.98 78.58,250.98 79.01,250.98 79.44,250.98 79.87,250.98 80.30,250.98 80.73,250.98 81.16,250.98 81.59,250.98 82.02,250.98 82.45,250.98 82.88,250.98 83.30,250.98 83.73,250.98 84.16,250.98 84.59,250.98 85.02,250.98 85.45,250.98 85.88,250.98 86.31,250.98 86.74,250.98 87.17,250.98 87.60,250.98 88.03,250.98 88.46,250.98 88.89,250.98 89.32,250.98 89.74,250.98 90.17,250.98 90.60,250.98 91.03,250.98 91.46,250.98 91.89,250.98 92.32,250.98 92.75,250.98 93.18,250.98 93.61,250.98 94.04,250.98 94.47,250.98 94.90,250.98 95.33,250.98 95.76,250.98 96.18,250.98 96.61,250.98 97.04,250.98 97.47,250.98 97.90,250.98 98.33,250.98 98.76,250.98 99.19,250.98 99.62,250.98 100.05,250.98 100.48,250.98 100.91,250.98 101.34,250.98 101.77,250.98 102.20,250.98 102.62,250.98 103.05,250.98 103.48,250.98 103.91,250.98 104.34,250.98 104.77,250.98 105.20,250.98 105.63,250.98 106.06,250.98 106.49,250.98 106.92,250.98 107.35,250.98 107.78,250.98 108.21,250.98 108.64,250.98 109.06,250.98 109.49,250.98 109.92,250.98 110.35,250.98 110.78,250.98 111.21,250.98 111.64,250.98 112.07,250.98 112.50,250.98 112.93,250.98 113.36,250.98 113.79,250.98 114.22,250.98 114.65,250.98 115.08,250.98 115.50,250.98 115.93,250.98 116.36,250.98 116.79,250.98 117.22,250.98 117.65,250.98 118.08,250.98 118.51,250.98 118.94,250.98 119.37,250.98 119.80,250.98 120.23,250.98 120.66,250.98 121.09,250.98 121.52,250.98 121.94,250.98 122.37,250.98 122.80,250.98 123.23,250.98 123.66,250.98 124.09,250.98 124.52,250.98 124.95,250.98 125.38,250.98 125.81,250.98 126.24,250.98 126.67,250.98 127.10,250.98 127.53,250.98 127.96,250.98 128.38,250.98 128.81,250.98 129.24,250.98 129.67,250.98 130.10,250.98 130.53,250.98 130.96,250.98 131.39,250.98 131.82,250.98 132.25,250.98 132.68,250.98 133.11,250.98 133.54,250.98 133.97,250.98 134.40,250.98 134.82,250.98 135.25,250.98 135.68,250.98 136.11,250.98 136.54,250.98 136.97,250.98 137.40,250.98 137.83,250.98 138.26,250.98 138.69,250.98 139.12,250.98 139.55,250.98 139.98,250.98 140.41,250.98 140.84,250.97 141.26,250.97 141.69,250.97 142.12,250.97 142.55,250.96 142.98,250.96 143.41,250.95 143.84,250.95 144.27,250.94 144.70,250.93 145.13,250.92 145.56,250.91 145.99,250.90 146.42,250.88 146.85,250.86 147.28,250.84 147.70,250.82 148.13,250.79 148.56,250.76 148.99,250.73 149.42,250.69 149.85,250.64 150.28,250.58 150.71,250.52 151.14,250.44 151.57,250.35 152.00,250.24 152.43,250.10 152.86,249.93 153.29,249.73 153.72,249.47 154.14,249.16 154.57,248.77 155.00,248.28 155.43,247.69 155.86,246.95 156.29,246.06 156.72,244.99 157.15,243.70 157.58,242.17 158.01,240.38 158.44,238.31 158.87,235.95 159.30,233.28 159.73,230.31 160.16,227.06 160.58,223.55 161.01,219.82 161.44,215.94 161.87,211.96 162.30,207.98 162.73,204.08 163.16,200.36 163.59,196.92 164.02,193.86 164.45,191.26 164.88,189.23 165.31,187.80 165.74,187.04 166.17,186.96 166.60,187.35 167.02,188.18 167.45,189.42 167.88,191.05 168.31,193.03 168.74,195.32 169.17,197.87 169.60,200.64 170.03,203.57 170.46,206.61 170.89,209.72 171.32,212.84 171.75,215.93 172.18,218.95 172.61,221.87 173.04,224.65 173.46,227.29 173.89,229.75 174.32,232.04 174.75,234.14 175.18,236.05 175.61,237.79 176.04,239.34 176.47,240.73 176.90,241.97 177.33,243.06 177.76,244.01 178.19,244.85 178.62,245.58 179.05,246.22 179.48,246.78 179.90,247.26 180.33,247.68 180.76,248.05 181.19,248.38 181.62,248.66 182.05,248.91 182.48,249.13 182.91,249.32 183.34,249.50 183.77,249.65 184.20,249.79 184.63,249.92 185.06,250.03 185.49,250.13 185.92,250.22 186.34,250.31 186.77,250.38 187.20,250.45 187.63,250.51 188.06,250.56 188.49,250.61 188.92,250.66 189.35,250.70"/></g>
</g>
<g>
<rect x="223.50" y="149.50" width="127.60" height="107.10" fill="none" stroke="#000" stroke-width="1.35"/>
<path d="M223.50 256.60v5.7M266.03 256.60v5.7M308.57 256.60v5.7M351.10 256.60v5.7M223.50 256.60h-5.7M223.50 235.18h-5.7M223.50 213.76h-5.7M223.50 192.34h-5.7M223.50 170.92h-5.7M223.50 149.50h-5.7" stroke="#000" stroke-width="1.1" fill="none"/>
<path d="M232.01 256.60v3.3M240.51 256.60v3.3M249.02 256.60v3.3M257.53 256.60v3.3M274.54 256.60v3.3M283.05 256.60v3.3M291.55 256.60v3.3M300.06 256.60v3.3M317.07 256.60v3.3M325.58 256.60v3.3M334.09 256.60v3.3M342.59 256.60v3.3M223.50 245.89h-3.3M223.50 224.47h-3.3M223.50 203.05h-3.3M223.50 181.63h-3.3M223.50 160.21h-3.3" stroke="#000" stroke-width="0.8" fill="none"/>
<g font-family='"Liberation Serif", serif' font-weight="bold" font-size="9.6" fill="#000" stroke="#000" stroke-width="0.25">
<text x="223.50" y="274.20" text-anchor="middle">20</text>
<text x="266.03" y="274.20" text-anchor="middle">30</text>
<text x="308.57" y="274.20" text-anchor="middle">40</text>
<text x="351.10" y="274.20" text-anchor="middle">50</text>
<text x="215.50" y="261.10" text-anchor="end">0</text>
<text x="214.50" y="239.68" text-anchor="end">0.05</text>
<text x="214.50" y="218.26" text-anchor="end">0.1</text>
<text x="214.50" y="196.84" text-anchor="end">0.15</text>
<text x="214.50" y="175.42" text-anchor="end">0.2</text>
<text x="214.50" y="154.00" text-anchor="end">0.25</text>
</g>
<text transform="translate(225.59 169.70) scale(1.032 1.017)" font-family='"Liberation Sans", sans-serif' font-weight="bold" font-size="24" fill="#000" stroke="#000" stroke-width="0.7" stroke-linejoin="miter">E</text>
<g fill="none" stroke="#000" stroke-width="2.5" stroke-linejoin="round" stroke-linecap="round"><polyline points="223.15,252.32 223.58,252.32 224.00,252.32 224.43,252.32 224.85,252.32 225.28,252.32 225.70,252.32 226.13,252.32 226.55,252.32 226.98,252.32 227.40,252.32 227.83,252.32 228.25,252.32 228.68,252.32 229.10,252.32 229.53,252.32 229.96,252.32 230.38,252.32 230.81,252.32 231.23,252.32 231.66,252.32 232.08,252.32 232.51,252.32 232.93,252.32 233.36,252.32 233.78,252.32 234.21,252.32 234.63,252.32 235.06,252.32 235.48,252.32 235.91,252.32 236.34,252.32 236.76,252.32 237.19,252.32 237.61,252.32 238.04,252.32 238.46,252.32 238.89,252.32 239.31,252.32 239.74,252.32 240.16,252.32 240.59,252.32 241.01,252.32 241.44,252.32 241.86,252.32 242.29,252.32 242.72,252.32 243.14,252.32 243.57,252.32 243.99,252.32 244.42,252.32 244.84,252.32 245.27,252.32 245.69,252.32 246.12,252.32 246.54,252.32 246.97,252.32 247.39,252.32 247.82,252.32 248.24,252.32 248.67,252.32 249.10,252.32 249.52,252.32 249.95,252.32 250.37,252.32 250.80,252.32 251.22,252.32 251.65,252.32 252.07,252.32 252.50,252.32 252.92,252.32 253.35,252.32 253.77,252.32 254.20,252.32 254.62,252.32 255.05,252.32 255.48,252.32 255.90,252.32 256.33,252.32 256.75,252.32 257.18,252.32 257.60,252.32 258.03,252.32 258.45,252.32 258.88,252.32 259.30,252.32 259.73,252.32 260.15,252.32 260.58,252.32 261.00,252.32 261.43,252.32 261.86,252.32 262.28,252.32 262.71,252.32 263.13,252.32 263.56,252.32 263.98,252.32 264.41,252.32 264.83,252.32 265.26,252.32 265.68,252.32 266.11,252.32 266.53,252.32 266.96,252.32 267.38,252.32 267.81,252.32 268.24,252.32 268.66,252.32 269.09,252.32 269.51,252.32 269.94,252.32 270.36,252.32 270.79,252.32 271.21,252.32 271.64,252.32 272.06,252.32 272.49,252.31 272.91,252.31 273.34,252.31 273.76,252.31 274.19,252.31 274.62,252.31 275.04,252.31 275.47,252.31 275.89,252.31 276.32,252.31 276.74,252.31 277.17,252.30 277.59,252.30 278.02,252.30 278.44,252.29 278.87,252.29 279.29,252.28 279.72,252.27 280.14,252.27 280.57,252.26 281.00,252.24 281.42,252.23 281.85,252.22 282.27,252.20 282.70,252.18 283.12,252.15 283.55,252.13 283.97,252.10 284.40,252.06 284.82,252.02 285.25,251.97 285.67,251.92 286.10,251.85 286.52,251.78 286.95,251.69 287.38,251.58 287.80,251.46 288.23,251.31 288.65,251.12 289.08,250.89 289.50,250.61 289.93,250.25 290.35,249.82 290.78,249.27 291.20,248.61 291.63,247.78 292.05,246.78 292.48,245.56 292.90,244.09 293.33,242.34 293.76,240.28 294.18,237.89 294.61,235.13 295.03,232.00 295.46,228.49 295.88,224.62 296.31,220.41 296.73,215.90 297.16,211.16 297.58,206.26 298.01,201.30 298.43,196.38 298.86,191.62 299.28,187.15 299.71,183.10 300.14,179.57 300.56,176.68 300.99,174.51 301.41,173.15 301.84,172.63 302.26,172.85 302.69,173.61 303.11,174.90 303.54,176.69 303.96,178.94 304.39,181.60 304.81,184.61 305.24,187.93 305.66,191.48 306.09,195.20 306.52,199.03 306.94,202.91 307.37,206.77 307.79,210.57 308.22,214.26 308.64,217.80 309.07,221.17 309.49,224.33 309.92,227.28 310.34,230.00 310.77,232.48 311.19,234.73 311.62,236.76 312.04,238.57 312.47,240.17 312.90,241.59 313.32,242.82 313.75,243.89 314.17,244.81 314.60,245.60 315.02,246.27 315.45,246.82 315.87,247.26 316.30,247.61 316.72,247.87 317.15,248.03 317.57,248.11 318.00,248.10 318.42,248.00 318.85,247.80 319.28,247.52 319.70,247.13 320.13,246.65 320.55,246.06 320.98,245.38 321.40,244.60 321.83,243.74 322.25,242.79 322.68,241.77 323.10,240.70 323.53,239.60 323.95,238.49 324.38,237.39 324.80,236.32 325.23,235.33 325.66,234.42 326.08,233.63 326.51,232.98 326.93,232.49 327.36,232.17 327.78,232.04 328.21,232.08 328.63,232.23 329.06,232.47 329.48,232.82 329.91,233.26 330.33,233.78 330.76,234.38 331.18,235.05 331.61,235.78 332.04,236.56 332.46,237.37 332.89,238.21 333.31,239.07 333.74,239.93 334.16,240.79 334.59,241.64 335.01,242.47 335.44,243.27 335.86,244.03 336.29,244.76 336.71,245.45 337.14,246.10 337.56,246.70 337.99,247.26 338.42,247.77 338.84,248.24 339.27,248.66 339.69,249.05 340.12,249.40 340.54,249.71 340.97,249.99 341.39,250.23 341.82,250.45 342.24,250.65 342.67,250.82 343.09,250.98 343.52,251.11 343.94,251.24 344.37,251.34 344.80,251.44 345.22,251.52 345.65,251.60 346.07,251.67 346.50,251.73 346.92,251.78 347.35,251.83 347.77,251.88 348.20,251.92 348.62,251.95 349.05,251.99 349.47,252.02 349.90,252.05 350.32,252.07 350.75,252.10"/><polyline points="223.85,252.32 224.28,252.32 224.70,252.32 225.13,252.32 225.55,252.32 225.98,252.32 226.40,252.32 226.83,252.32 227.25,252.32 227.68,252.32 228.10,252.32 228.53,252.32 228.95,252.32 229.38,252.32 229.80,252.32 230.23,252.32 230.66,252.32 231.08,252.32 231.51,252.32 231.93,252.32 232.36,252.32 232.78,252.32 233.21,252.32 233.63,252.32 234.06,252.32 234.48,252.32 234.91,252.32 235.33,252.32 235.76,252.32 236.18,252.32 236.61,252.32 237.04,252.32 237.46,252.32 237.89,252.32 238.31,252.32 238.74,252.32 239.16,252.32 239.59,252.32 240.01,252.32 240.44,252.32 240.86,252.32 241.29,252.32 241.71,252.32 242.14,252.32 242.56,252.32 242.99,252.32 243.42,252.32 243.84,252.32 244.27,252.32 244.69,252.32 245.12,252.32 245.54,252.32 245.97,252.32 246.39,252.32 246.82,252.32 247.24,252.32 247.67,252.32 248.09,252.32 248.52,252.32 248.94,252.32 249.37,252.32 249.80,252.32 250.22,252.32 250.65,252.32 251.07,252.32 251.50,252.32 251.92,252.32 252.35,252.32 252.77,252.32 253.20,252.32 253.62,252.32 254.05,252.32 254.47,252.32 254.90,252.32 255.32,252.32 255.75,252.32 256.18,252.32 256.60,252.32 257.03,252.32 257.45,252.32 257.88,252.32 258.30,252.32 258.73,252.32 259.15,252.32 259.58,252.32 260.00,252.32 260.43,252.32 260.85,252.32 261.28,252.32 261.70,252.32 262.13,252.32 262.56,252.32 262.98,252.32 263.41,252.32 263.83,252.32 264.26,252.32 264.68,252.32 265.11,252.32 265.53,252.32 265.96,252.32 266.38,252.32 266.81,252.32 267.23,252.32 267.66,252.32 268.08,252.32 268.51,252.32 268.94,252.32 269.36,252.32 269.79,252.32 270.21,252.32 270.64,252.32 271.06,252.32 271.49,252.32 271.91,252.32 272.34,252.32 272.76,252.32 273.19,252.31 273.61,252.31 274.04,252.31 274.46,252.31 274.89,252.31 275.32,252.31 275.74,252.31 276.17,252.31 276.59,252.31 277.02,252.31 277.44,252.31 277.87,252.30 278.29,252.30 278.72,252.30 279.14,252.29 279.57,252.29 279.99,252.28 280.42,252.27 280.84,252.27 281.27,252.26 281.70,252.24 282.12,252.23 282.55,252.22 282.97,252.20 283.40,252.18 283.82,252.15 284.25,252.13 284.67,252.10 285.10,252.06 285.52,252.02 285.95,251.97 286.37,251.92 286.80,251.85 287.22,251.78 287.65,251.69 288.08,251.58 288.50,251.46 288.93,251.31 289.35,251.12 289.78,250.89 290.20,250.61 290.63,250.25 291.05,249.82 291.48,249.27 291.90,248.61 292.33,247.78 292.75,246.78 293.18,245.56 293.60,244.09 294.03,242.34 294.46,240.28 294.88,237.89 295.31,235.13 295.73,232.00 296.16,228.49 296.58,224.62 297.01,220.41 297.43,215.90 297.86,211.16 298.28,206.26 298.71,201.30 299.13,196.38 299.56,191.62 299.98,187.15 300.41,183.10 300.84,179.57 301.26,176.68 301.69,174.51 302.11,173.15 302.54,172.63 302.96,172.85 303.39,173.61 303.81,174.90 304.24,176.69 304.66,178.94 305.09,181.60 305.51,184.61 305.94,187.93 306.36,191.48 306.79,195.20 307.22,199.03 307.64,202.91 308.07,206.77 308.49,210.57 308.92,214.26 309.34,217.80 309.77,221.17 310.19,224.33 310.62,227.28 311.04,230.00 311.47,232.48 311.89,234.73 312.32,236.76 312.74,238.57 313.17,240.17 313.60,241.59 314.02,242.82 314.45,243.89 314.87,244.81 315.30,245.60 315.72,246.27 316.15,246.82 316.57,247.26 317.00,247.61 317.42,247.87 317.85,248.03 318.27,248.11 318.70,248.10 319.12,248.00 319.55,247.80 319.98,247.52 320.40,247.13 320.83,246.65 321.25,246.06 321.68,245.38 322.10,244.60 322.53,243.74 322.95,242.79 323.38,241.77 323.80,240.70 324.23,239.60 324.65,238.49 325.08,237.39 325.50,236.32 325.93,235.33 326.36,234.42 326.78,233.63 327.21,232.98 327.63,232.49 328.06,232.17 328.48,232.04 328.91,232.08 329.33,232.23 329.76,232.47 330.18,232.82 330.61,233.26 331.03,233.78 331.46,234.38 331.88,235.05 332.31,235.78 332.74,236.56 333.16,237.37 333.59,238.21 334.01,239.07 334.44,239.93 334.86,240.79 335.29,241.64 335.71,242.47 336.14,243.27 336.56,244.03 336.99,244.76 337.41,245.45 337.84,246.10 338.26,246.70 338.69,247.26 339.12,247.77 339.54,248.24 339.97,248.66 340.39,249.05 340.82,249.40 341.24,249.71 341.67,249.99 342.09,250.23 342.52,250.45 342.94,250.65 343.37,250.82 343.79,250.98 344.22,251.11 344.64,251.24 345.07,251.34 345.50,251.44 345.92,251.52 346.35,251.60 346.77,251.67 347.20,251.73 347.62,251.78 348.05,251.83 348.47,251.88 348.90,251.92 349.32,251.95 349.75,251.99 350.17,252.02 350.60,252.05 351.02,252.07 351.45,252.10"/></g>
</g>
<g>
<rect x="386.25" y="148.60" width="127.65" height="108.70" fill="none" stroke="#000" stroke-width="1.35"/>
<path d="M386.25 257.30v5.7M428.80 257.30v5.7M471.35 257.30v5.7M513.90 257.30v5.7M386.25 257.30h-5.7M386.25 239.18h-5.7M386.25 221.07h-5.7M386.25 202.95h-5.7M386.25 184.83h-5.7M386.25 166.72h-5.7M386.25 148.60h-5.7" stroke="#000" stroke-width="1.1" fill="none"/>
<path d="M394.76 257.30v3.3M403.27 257.30v3.3M411.78 257.30v3.3M420.29 257.30v3.3M437.31 257.30v3.3M445.82 257.30v3.3M454.33 257.30v3.3M462.84 257.30v3.3M479.86 257.30v3.3M488.37 257.30v3.3M496.88 257.30v3.3M505.39 257.30v3.3M386.25 248.24h-3.3M386.25 230.12h-3.3M386.25 212.01h-3.3M386.25 193.89h-3.3M386.25 175.78h-3.3M386.25 157.66h-3.3" stroke="#000" stroke-width="0.8" fill="none"/>
<g font-family='"Liberation Serif", serif' font-weight="bold" font-size="9.6" fill="#000" stroke="#000" stroke-width="0.25">
<text x="386.25" y="274.90" text-anchor="middle">20</text>
<text x="428.80" y="274.90" text-anchor="middle">30</text>
<text x="471.35" y="274.90" text-anchor="middle">40</text>
<text x="513.90" y="274.90" text-anchor="middle">50</text>
<text x="378.25" y="261.80" text-anchor="end">0</text>
<text x="377.25" y="243.68" text-anchor="end">0.05</text>
<text x="377.25" y="225.57" text-anchor="end">0.1</text>
<text x="377.25" y="207.45" text-anchor="end">0.15</text>
<text x="377.25" y="189.33" text-anchor="end">0.2</text>
<text x="377.25" y="171.22" text-anchor="end">0.25</text>
<text x="377.25" y="153.10" text-anchor="end">0.3</text>
</g>
<text transform="translate(388.78 169.15) scale(0.977 1.017)" font-family='"Liberation Sans", sans-serif' font-weight="bold" font-size="24" fill="#000" stroke="#000" stroke-width="0.7" stroke-linejoin="miter">F</text>
<g fill="none" stroke="#000" stroke-width="2.5" stroke-linejoin="round" stroke-linecap="round"><polyline points="385.90,253.30 386.33,253.29 386.75,253.28 387.18,253.28 387.60,253.27 388.03,253.26 388.45,253.24 388.88,253.23 389.30,253.21 389.73,253.19 390.15,253.16 390.58,253.13 391.01,253.10 391.43,253.06 391.86,253.02 392.28,252.97 392.71,252.92 393.13,252.86 393.56,252.80 393.98,252.72 394.41,252.65 394.84,252.57 395.26,252.48 395.69,252.39 396.11,252.29 396.54,252.20 396.96,252.10 397.39,252.00 397.81,251.89 398.24,251.79 398.66,251.70 399.09,251.60 399.52,251.52 399.94,251.43 400.37,251.36 400.79,251.30 401.22,251.24 401.64,251.20 402.07,251.17 402.49,251.15 402.92,251.14 403.35,251.14 403.77,251.15 404.20,251.15 404.62,251.16 405.05,251.17 405.47,251.18 405.90,251.20 406.32,251.22 406.75,251.24 407.17,251.26 407.60,251.28 408.03,251.31 408.45,251.33 408.88,251.36 409.30,251.39 409.73,251.42 410.15,251.45 410.58,251.49 411.00,251.52 411.43,251.56 411.86,251.59 412.28,251.62 412.71,251.66 413.13,251.69 413.56,251.72 413.98,251.75 414.41,251.77 414.83,251.80 415.26,251.82 415.68,251.83 416.11,251.84 416.54,251.84 416.96,251.84 417.39,251.82 417.81,251.80 418.24,251.77 418.66,251.73 419.09,251.68 419.51,251.61 419.94,251.54 420.37,251.45 420.79,251.34 421.22,251.23 421.64,251.10 422.07,250.96 422.49,250.80 422.92,250.63 423.34,250.46 423.77,250.27 424.19,250.08 424.62,249.88 425.05,249.68 425.47,249.48 425.90,249.29 426.32,249.09 426.75,248.91 427.17,248.74 427.60,248.57 428.02,248.42 428.45,248.28 428.88,248.15 429.30,248.03 429.73,247.90 430.15,247.75 430.58,247.56 431.00,247.31 431.43,246.95 431.85,246.44 432.28,245.71 432.70,244.69 433.13,243.28 433.56,241.40 433.98,238.96 434.41,235.87 434.83,232.07 435.26,227.54 435.68,222.30 436.11,216.42 436.53,210.03 436.96,203.35 437.39,196.61 437.81,190.13 438.24,184.22 438.66,179.20 439.09,175.35 439.51,172.90 439.94,172.00 440.36,172.25 440.79,173.19 441.21,174.79 441.64,176.98 442.07,179.71 442.49,182.88 442.92,186.41 443.34,190.18 443.77,194.10 444.19,198.08 444.62,202.02 445.04,205.85 445.47,209.50 445.90,212.92 446.32,216.08 446.75,218.95 447.17,221.52 447.60,223.79 448.02,225.79 448.45,227.52 448.87,229.01 449.30,230.29 449.72,231.40 450.15,232.36 450.58,233.20 451.00,233.95 451.43,234.63 451.85,235.25 452.28,235.84 452.70,236.39 453.13,236.92 453.55,237.41 453.98,237.85 454.41,238.24 454.83,238.55 455.26,238.76 455.68,238.83 456.11,238.74 456.53,238.45 456.96,237.93 457.38,237.13 457.81,236.05 458.23,234.66 458.66,232.95 459.09,230.94 459.51,228.64 459.94,226.09 460.36,223.37 460.79,220.54 461.21,217.69 461.64,214.94 462.06,212.39 462.49,210.15 462.92,208.32 463.34,206.99 463.77,206.24 464.19,206.09 464.62,206.43 465.04,207.11 465.47,208.11 465.89,209.42 466.32,211.00 466.74,212.83 467.17,214.86 467.60,217.06 468.02,219.38 468.45,221.77 468.87,224.19 469.30,226.61 469.72,228.98 470.15,231.27 470.57,233.46 471.00,235.53 471.43,237.46 471.85,239.23 472.28,240.86 472.70,242.32 473.13,243.63 473.55,244.79 473.98,245.81 474.40,246.69 474.83,247.45 475.25,248.09 475.68,248.63 476.11,249.08 476.53,249.44 476.96,249.72 477.38,249.93 477.81,250.07 478.23,250.15 478.66,250.17 479.08,250.13 479.51,250.04 479.94,249.90 480.36,249.70 480.79,249.46 481.21,249.16 481.64,248.81 482.06,248.42 482.49,247.98 482.91,247.50 483.34,246.97 483.76,246.42 484.19,245.83 484.62,245.22 485.04,244.60 485.47,243.96 485.89,243.33 486.32,242.71 486.74,242.10 487.17,241.53 487.59,241.00 488.02,240.51 488.45,240.08 488.87,239.72 489.30,239.43 489.72,239.21 490.15,239.08 490.57,239.04 491.00,239.07 491.42,239.18 491.85,239.36 492.27,239.60 492.70,239.91 493.13,240.28 493.55,240.70 493.98,241.17 494.40,241.67 494.83,242.21 495.25,242.78 495.68,243.36 496.10,243.96 496.53,244.56 496.96,245.16 497.38,245.75 497.81,246.32 498.23,246.88 498.66,247.41 499.08,247.92 499.51,248.41 499.93,248.86 500.36,249.28 500.78,249.68 501.21,250.04 501.64,250.37 502.06,250.67 502.49,250.95 502.91,251.19 503.34,251.42 503.76,251.62 504.19,251.79 504.61,251.95 505.04,252.10 505.47,252.22 505.89,252.33 506.32,252.43 506.74,252.52 507.17,252.60 507.59,252.67 508.02,252.73 508.44,252.78 508.87,252.83 509.29,252.88 509.72,252.92 510.15,252.96 510.57,252.99 511.00,253.02 511.42,253.04 511.85,253.07 512.27,253.09 512.70,253.11 513.12,253.13 513.55,253.15"/><polyline points="386.60,253.30 387.03,253.29 387.45,253.28 387.88,253.28 388.30,253.27 388.73,253.26 389.15,253.24 389.58,253.23 390.00,253.21 390.43,253.19 390.86,253.16 391.28,253.13 391.71,253.10 392.13,253.06 392.56,253.02 392.98,252.97 393.41,252.92 393.83,252.86 394.26,252.80 394.68,252.72 395.11,252.65 395.54,252.57 395.96,252.48 396.39,252.39 396.81,252.29 397.24,252.20 397.66,252.10 398.09,252.00 398.51,251.89 398.94,251.79 399.37,251.70 399.79,251.60 400.22,251.52 400.64,251.43 401.07,251.36 401.49,251.30 401.92,251.24 402.34,251.20 402.77,251.17 403.19,251.15 403.62,251.14 404.05,251.14 404.47,251.15 404.90,251.15 405.32,251.16 405.75,251.17 406.17,251.18 406.60,251.20 407.02,251.22 407.45,251.24 407.88,251.26 408.30,251.28 408.73,251.31 409.15,251.33 409.58,251.36 410.00,251.39 410.43,251.42 410.85,251.45 411.28,251.49 411.70,251.52 412.13,251.56 412.56,251.59 412.98,251.62 413.41,251.66 413.83,251.69 414.26,251.72 414.68,251.75 415.11,251.77 415.53,251.80 415.96,251.82 416.38,251.83 416.81,251.84 417.24,251.84 417.66,251.84 418.09,251.82 418.51,251.80 418.94,251.77 419.36,251.73 419.79,251.68 420.21,251.61 420.64,251.54 421.07,251.45 421.49,251.34 421.92,251.23 422.34,251.10 422.77,250.96 423.19,250.80 423.62,250.63 424.04,250.46 424.47,250.27 424.90,250.08 425.32,249.88 425.75,249.68 426.17,249.48 426.60,249.29 427.02,249.09 427.45,248.91 427.87,248.74 428.30,248.57 428.72,248.42 429.15,248.28 429.58,248.15 430.00,248.03 430.43,247.90 430.85,247.75 431.28,247.56 431.70,247.31 432.13,246.95 432.55,246.44 432.98,245.71 433.41,244.69 433.83,243.28 434.26,241.40 434.68,238.96 435.11,235.87 435.53,232.07 435.96,227.54 436.38,222.30 436.81,216.42 437.23,210.03 437.66,203.35 438.09,196.61 438.51,190.13 438.94,184.22 439.36,179.20 439.79,175.35 440.21,172.90 440.64,172.00 441.06,172.25 441.49,173.19 441.92,174.79 442.34,176.98 442.77,179.71 443.19,182.88 443.62,186.41 444.04,190.18 444.47,194.10 444.89,198.08 445.32,202.02 445.74,205.85 446.17,209.50 446.60,212.92 447.02,216.08 447.45,218.95 447.87,221.52 448.30,223.79 448.72,225.79 449.15,227.52 449.57,229.01 450.00,230.29 450.43,231.40 450.85,232.36 451.28,233.20 451.70,233.95 452.13,234.63 452.55,235.25 452.98,235.84 453.40,236.39 453.83,236.92 454.25,237.41 454.68,237.85 455.11,238.24 455.53,238.55 455.96,238.76 456.38,238.83 456.81,238.74 457.23,238.45 457.66,237.93 458.08,237.13 458.51,236.05 458.94,234.66 459.36,232.95 459.79,230.94 460.21,228.64 460.64,226.09 461.06,223.37 461.49,220.54 461.91,217.69 462.34,214.94 462.76,212.39 463.19,210.15 463.62,208.32 464.04,206.99 464.47,206.24 464.89,206.09 465.32,206.43 465.74,207.11 466.17,208.11 466.59,209.42 467.02,211.00 467.44,212.83 467.87,214.86 468.30,217.06 468.72,219.38 469.15,221.77 469.57,224.19 470.00,226.61 470.42,228.98 470.85,231.27 471.27,233.46 471.70,235.53 472.13,237.46 472.55,239.23 472.98,240.86 473.40,242.32 473.83,243.63 474.25,244.79 474.68,245.81 475.10,246.69 475.53,247.45 475.95,248.09 476.38,248.63 476.81,249.08 477.23,249.44 477.66,249.72 478.08,249.93 478.51,250.07 478.93,250.15 479.36,250.17 479.78,250.13 480.21,250.04 480.64,249.90 481.06,249.70 481.49,249.46 481.91,249.16 482.34,248.81 482.76,248.42 483.19,247.98 483.61,247.50 484.04,246.97 484.47,246.42 484.89,245.83 485.32,245.22 485.74,244.60 486.17,243.96 486.59,243.33 487.02,242.71 487.44,242.10 487.87,241.53 488.29,241.00 488.72,240.51 489.15,240.08 489.57,239.72 490.00,239.43 490.42,239.21 490.85,239.08 491.27,239.04 491.70,239.07 492.12,239.18 492.55,239.36 492.98,239.60 493.40,239.91 493.83,240.28 494.25,240.70 494.68,241.17 495.10,241.67 495.53,242.21 495.95,242.78 496.38,243.36 496.80,243.96 497.23,244.56 497.66,245.16 498.08,245.75 498.51,246.32 498.93,246.88 499.36,247.41 499.78,247.92 500.21,248.41 500.63,248.86 501.06,249.28 501.49,249.68 501.91,250.04 502.34,250.37 502.76,250.67 503.19,250.95 503.61,251.19 504.04,251.42 504.46,251.62 504.89,251.79 505.31,251.95 505.74,252.10 506.17,252.22 506.59,252.33 507.02,252.43 507.44,252.52 507.87,252.60 508.29,252.67 508.72,252.73 509.14,252.78 509.57,252.83 510.00,252.88 510.42,252.92 510.85,252.96 511.27,252.99 511.70,253.02 512.12,253.04 512.55,253.07 512.97,253.09 513.40,253.11 513.82,253.13 514.25,253.15"/></g>
</g>
<g>
<rect x="60.20" y="294.90" width="128.90" height="106.50" fill="none" stroke="#000" stroke-width="1.35"/>
<path d="M60.20 401.40v5.7M103.17 401.40v5.7M146.13 401.40v5.7M189.10 401.40v5.7M60.20 401.40h-5.7M60.20 365.90h-5.7M60.20 330.40h-5.7M60.20 294.90h-5.7" stroke="#000" stroke-width="1.1" fill="none"/>
<path d="M68.79 401.40v3.3M77.39 401.40v3.3M85.98 401.40v3.3M94.57 401.40v3.3M111.76 401.40v3.3M120.35 401.40v3.3M128.95 401.40v3.3M137.54 401.40v3.3M154.73 401.40v3.3M163.32 401.40v3.3M171.91 401.40v3.3M180.51 401.40v3.3M60.20 383.65h-3.3M60.20 348.15h-3.3M60.20 312.65h-3.3" stroke="#000" stroke-width="0.8" fill="none"/>
<g font-family='"Liberation Serif", serif' font-weight="bold" font-size="9.6" fill="#000" stroke="#000" stroke-width="0.25">
<text x="60.20" y="419.00" text-anchor="middle">20</text>
<text x="103.17" y="419.00" text-anchor="middle">30</text>
<text x="146.13" y="419.00" text-anchor="middle">40</text>
<text x="189.10" y="419.00" text-anchor="middle">50</text>
<text x="52.20" y="405.90" text-anchor="end">0</text>
<text x="51.20" y="370.40" text-anchor="end">0.05</text>
<text x="51.20" y="334.90" text-anchor="end">0.1</text>
<text x="51.20" y="299.40" text-anchor="end">0.15</text>
</g>
<text transform="translate(62.82 315.27) scale(1.050 0.989)" font-family='"Liberation Sans", sans-serif' font-weight="bold" font-size="24" fill="#000" stroke="#000" stroke-width="0.7" stroke-linejoin="miter">G</text>
<g fill="none" stroke="#000" stroke-width="2.5" stroke-linejoin="round" stroke-linecap="round"><polyline points="59.85,395.01 60.28,395.01 60.71,395.01 61.14,395.01 61.57,395.01 62.00,395.01 62.43,395.01 62.86,395.01 63.29,395.01 63.72,395.01 64.15,395.01 64.58,395.01 65.01,395.01 65.44,395.01 65.87,395.01 66.30,395.01 66.72,395.01 67.15,395.01 67.58,395.01 68.01,395.01 68.44,395.01 68.87,395.01 69.30,395.01 69.73,395.01 70.16,395.01 70.59,395.01 71.02,395.01 71.45,395.01 71.88,395.01 72.31,395.01 72.74,395.01 73.17,395.01 73.60,395.01 74.03,395.01 74.46,395.01 74.89,395.01 75.32,395.01 75.75,395.01 76.18,395.01 76.61,395.01 77.04,395.01 77.47,395.01 77.90,395.01 78.33,395.01 78.76,395.01 79.19,395.01 79.61,395.01 80.04,395.01 80.47,395.01 80.90,395.01 81.33,395.01 81.76,395.01 82.19,395.01 82.62,395.01 83.05,395.01 83.48,395.01 83.91,395.01 84.34,395.01 84.77,395.01 85.20,395.01 85.63,395.01 86.06,395.01 86.49,395.01 86.92,395.01 87.35,395.01 87.78,395.01 88.21,395.01 88.64,395.01 89.07,395.01 89.50,395.01 89.93,395.01 90.36,395.01 90.79,395.01 91.22,395.01 91.65,395.01 92.08,395.01 92.50,395.01 92.93,395.01 93.36,395.01 93.79,395.01 94.22,395.01 94.65,395.01 95.08,395.01 95.51,395.01 95.94,395.01 96.37,395.01 96.80,395.01 97.23,395.01 97.66,395.01 98.09,395.01 98.52,395.01 98.95,395.01 99.38,395.01 99.81,395.01 100.24,395.01 100.67,395.01 101.10,395.01 101.53,395.01 101.96,395.01 102.39,395.01 102.82,395.01 103.25,395.01 103.68,395.01 104.11,395.01 104.54,395.01 104.97,395.01 105.39,395.01 105.82,395.01 106.25,395.01 106.68,395.01 107.11,395.01 107.54,395.01 107.97,395.01 108.40,395.01 108.83,395.01 109.26,395.01 109.69,395.01 110.12,395.01 110.55,395.01 110.98,395.01 111.41,395.01 111.84,395.01 112.27,395.01 112.70,395.01 113.13,395.01 113.56,395.01 113.99,395.01 114.42,395.01 114.85,395.01 115.28,395.01 115.71,395.01 116.14,395.01 116.57,395.01 117.00,395.01 117.43,395.01 117.85,395.01 118.28,395.01 118.71,395.01 119.14,395.01 119.57,395.01 120.00,395.01 120.43,395.01 120.86,395.01 121.29,395.01 121.72,395.01 122.15,395.01 122.58,395.01 123.01,395.01 123.44,395.01 123.87,395.01 124.30,395.01 124.73,395.01 125.16,395.01 125.59,395.01 126.02,395.01 126.45,395.01 126.88,395.01 127.31,395.01 127.74,395.01 128.17,395.01 128.60,395.01 129.03,395.01 129.46,395.01 129.89,395.01 130.32,395.01 130.75,395.01 131.17,395.01 131.60,395.01 132.03,395.01 132.46,395.01 132.89,395.01 133.32,395.01 133.75,395.01 134.18,395.01 134.61,395.01 135.04,395.01 135.47,395.01 135.90,395.01 136.33,395.01 136.76,395.01 137.19,395.01 137.62,395.00 138.05,395.00 138.48,395.00 138.91,395.00 139.34,395.00 139.77,394.99 140.20,394.99 140.63,394.99 141.06,394.98 141.49,394.98 141.92,394.97 142.35,394.96 142.78,394.95 143.21,394.94 143.63,394.93 144.06,394.92 144.49,394.90 144.92,394.88 145.35,394.86 145.78,394.84 146.21,394.81 146.64,394.78 147.07,394.74 147.50,394.70 147.93,394.65 148.36,394.59 148.79,394.51 149.22,394.43 149.65,394.33 150.08,394.20 150.51,394.04 150.94,393.85 151.37,393.61 151.80,393.32 152.23,392.95 152.66,392.50 153.09,391.94 153.52,391.26 153.95,390.43 154.38,389.44 154.81,388.25 155.24,386.86 155.67,385.24 156.10,383.37 156.53,381.25 156.95,378.88 157.38,376.26 157.81,373.40 158.24,370.35 158.67,367.14 159.10,363.82 159.53,360.46 159.96,357.13 160.39,353.91 160.82,350.88 161.25,348.14 161.68,345.75 162.11,343.79 162.54,342.32 162.97,341.40 163.40,341.05 163.83,341.20 164.26,341.72 164.69,342.59 165.12,343.80 165.55,345.32 165.98,347.13 166.41,349.17 166.84,351.42 167.27,353.83 167.70,356.35 168.13,358.94 168.56,361.57 168.99,364.19 169.41,366.77 169.84,369.27 170.27,371.67 170.70,373.96 171.13,376.11 171.56,378.11 171.99,379.96 172.42,381.65 172.85,383.18 173.28,384.57 173.71,385.81 174.14,386.91 174.57,387.89 175.00,388.75 175.43,389.50 175.86,390.16 176.29,390.74 176.72,391.24 177.15,391.68 177.58,392.06 178.01,392.39 178.44,392.68 178.87,392.94 179.30,393.16 179.73,393.36 180.16,393.53 180.59,393.69 181.02,393.83 181.45,393.95 181.88,394.06 182.30,394.16 182.73,394.25 183.16,394.33 183.59,394.41 184.02,394.47 184.45,394.53 184.88,394.59 185.31,394.63 185.74,394.68 186.17,394.72 186.60,394.75 187.03,394.78 187.46,394.81 187.89,394.84 188.32,394.86 188.75,394.88"/><polyline points="60.55,395.01 60.98,395.01 61.41,395.01 61.84,395.01 62.27,395.01 62.70,395.01 63.13,395.01 63.56,395.01 63.99,395.01 64.42,395.01 64.85,395.01 65.28,395.01 65.71,395.01 66.14,395.01 66.57,395.01 66.99,395.01 67.42,395.01 67.85,395.01 68.28,395.01 68.71,395.01 69.14,395.01 69.57,395.01 70.00,395.01 70.43,395.01 70.86,395.01 71.29,395.01 71.72,395.01 72.15,395.01 72.58,395.01 73.01,395.01 73.44,395.01 73.87,395.01 74.30,395.01 74.73,395.01 75.16,395.01 75.59,395.01 76.02,395.01 76.45,395.01 76.88,395.01 77.31,395.01 77.74,395.01 78.17,395.01 78.60,395.01 79.03,395.01 79.46,395.01 79.88,395.01 80.31,395.01 80.74,395.01 81.17,395.01 81.60,395.01 82.03,395.01 82.46,395.01 82.89,395.01 83.32,395.01 83.75,395.01 84.18,395.01 84.61,395.01 85.04,395.01 85.47,395.01 85.90,395.01 86.33,395.01 86.76,395.01 87.19,395.01 87.62,395.01 88.05,395.01 88.48,395.01 88.91,395.01 89.34,395.01 89.77,395.01 90.20,395.01 90.63,395.01 91.06,395.01 91.49,395.01 91.92,395.01 92.35,395.01 92.77,395.01 93.20,395.01 93.63,395.01 94.06,395.01 94.49,395.01 94.92,395.01 95.35,395.01 95.78,395.01 96.21,395.01 96.64,395.01 97.07,395.01 97.50,395.01 97.93,395.01 98.36,395.01 98.79,395.01 99.22,395.01 99.65,395.01 100.08,395.01 100.51,395.01 100.94,395.01 101.37,395.01 101.80,395.01 102.23,395.01 102.66,395.01 103.09,395.01 103.52,395.01 103.95,395.01 104.38,395.01 104.81,395.01 105.24,395.01 105.66,395.01 106.09,395.01 106.52,395.01 106.95,395.01 107.38,395.01 107.81,395.01 108.24,395.01 108.67,395.01 109.10,395.01 109.53,395.01 109.96,395.01 110.39,395.01 110.82,395.01 111.25,395.01 111.68,395.01 112.11,395.01 112.54,395.01 112.97,395.01 113.40,395.01 113.83,395.01 114.26,395.01 114.69,395.01 115.12,395.01 115.55,395.01 115.98,395.01 116.41,395.01 116.84,395.01 117.27,395.01 117.70,395.01 118.13,395.01 118.55,395.01 118.98,395.01 119.41,395.01 119.84,395.01 120.27,395.01 120.70,395.01 121.13,395.01 121.56,395.01 121.99,395.01 122.42,395.01 122.85,395.01 123.28,395.01 123.71,395.01 124.14,395.01 124.57,395.01 125.00,395.01 125.43,395.01 125.86,395.01 126.29,395.01 126.72,395.01 127.15,395.01 127.58,395.01 128.01,395.01 128.44,395.01 128.87,395.01 129.30,395.01 129.73,395.01 130.16,395.01 130.59,395.01 131.02,395.01 131.44,395.01 131.87,395.01 132.30,395.01 132.73,395.01 133.16,395.01 133.59,395.01 134.02,395.01 134.45,395.01 134.88,395.01 135.31,395.01 135.74,395.01 136.17,395.01 136.60,395.01 137.03,395.01 137.46,395.01 137.89,395.01 138.32,395.00 138.75,395.00 139.18,395.00 139.61,395.00 140.04,395.00 140.47,394.99 140.90,394.99 141.33,394.99 141.76,394.98 142.19,394.98 142.62,394.97 143.05,394.96 143.48,394.95 143.91,394.94 144.33,394.93 144.76,394.92 145.19,394.90 145.62,394.88 146.05,394.86 146.48,394.84 146.91,394.81 147.34,394.78 147.77,394.74 148.20,394.70 148.63,394.65 149.06,394.59 149.49,394.51 149.92,394.43 150.35,394.33 150.78,394.20 151.21,394.04 151.64,393.85 152.07,393.61 152.50,393.32 152.93,392.95 153.36,392.50 153.79,391.94 154.22,391.26 154.65,390.43 155.08,389.44 155.51,388.25 155.94,386.86 156.37,385.24 156.80,383.37 157.22,381.25 157.65,378.88 158.08,376.26 158.51,373.40 158.94,370.35 159.37,367.14 159.80,363.82 160.23,360.46 160.66,357.13 161.09,353.91 161.52,350.88 161.95,348.14 162.38,345.75 162.81,343.79 163.24,342.32 163.67,341.40 164.10,341.05 164.53,341.20 164.96,341.72 165.39,342.59 165.82,343.80 166.25,345.32 166.68,347.13 167.11,349.17 167.54,351.42 167.97,353.83 168.40,356.35 168.83,358.94 169.26,361.57 169.69,364.19 170.11,366.77 170.54,369.27 170.97,371.67 171.40,373.96 171.83,376.11 172.26,378.11 172.69,379.96 173.12,381.65 173.55,383.18 173.98,384.57 174.41,385.81 174.84,386.91 175.27,387.89 175.70,388.75 176.13,389.50 176.56,390.16 176.99,390.74 177.42,391.24 177.85,391.68 178.28,392.06 178.71,392.39 179.14,392.68 179.57,392.94 180.00,393.16 180.43,393.36 180.86,393.53 181.29,393.69 181.72,393.83 182.15,393.95 182.58,394.06 183.00,394.16 183.43,394.25 183.86,394.33 184.29,394.41 184.72,394.47 185.15,394.53 185.58,394.59 186.01,394.63 186.44,394.68 186.87,394.72 187.30,394.75 187.73,394.78 188.16,394.81 188.59,394.84 189.02,394.86 189.45,394.88"/></g>
</g>
<g>
<rect x="223.35" y="294.90" width="128.15" height="106.60" fill="none" stroke="#000" stroke-width="1.35"/>
<path d="M223.35 401.50v5.7M266.07 401.50v5.7M308.78 401.50v5.7M351.50 401.50v5.7M223.35 401.50h-5.7M223.35 380.18h-5.7M223.35 358.86h-5.7M223.35 337.54h-5.7M223.35 316.22h-5.7M223.35 294.90h-5.7" stroke="#000" stroke-width="1.1" fill="none"/>
<path d="M231.89 401.50v3.3M240.44 401.50v3.3M248.98 401.50v3.3M257.52 401.50v3.3M274.61 401.50v3.3M283.15 401.50v3.3M291.70 401.50v3.3M300.24 401.50v3.3M317.33 401.50v3.3M325.87 401.50v3.3M334.41 401.50v3.3M342.96 401.50v3.3M223.35 390.84h-3.3M223.35 369.52h-3.3M223.35 348.20h-3.3M223.35 326.88h-3.3M223.35 305.56h-3.3" stroke="#000" stroke-width="0.8" fill="none"/>
<g font-family='"Liberation Serif", serif' font-weight="bold" font-size="9.6" fill="#000" stroke="#000" stroke-width="0.25">
<text x="223.35" y="419.10" text-anchor="middle">20</text>
<text x="266.07" y="419.10" text-anchor="middle">30</text>
<text x="308.78" y="419.10" text-anchor="middle">40</text>
<text x="351.50" y="419.10" text-anchor="middle">50</text>
<text x="215.35" y="406.00" text-anchor="end">0</text>
<text x="214.35" y="384.68" text-anchor="end">0.05</text>
<text x="214.35" y="363.36" text-anchor="end">0.1</text>
<text x="214.35" y="342.04" text-anchor="end">0.15</text>
<text x="214.35" y="320.72" text-anchor="end">0.2</text>
<text x="214.35" y="299.40" text-anchor="end">0.25</text>
</g>
<text transform="translate(225.58 314.95) scale(1.042 1.017)" font-family='"Liberation Sans", sans-serif' font-weight="bold" font-size="24" fill="#000" stroke="#000" stroke-width="0.7" stroke-linejoin="miter">H</text>
<g fill="none" stroke="#000" stroke-width="2.5" stroke-linejoin="round" stroke-linecap="round"><polyline points="223.00,397.24 223.43,397.24 223.85,397.24 224.28,397.24 224.71,397.24 225.14,397.24 225.56,397.24 225.99,397.24 226.42,397.24 226.84,397.24 227.27,397.24 227.70,397.24 228.13,397.24 228.55,397.24 228.98,397.24 229.41,397.24 229.83,397.24 230.26,397.24 230.69,397.24 231.12,397.24 231.54,397.24 231.97,397.24 232.40,397.24 232.82,397.24 233.25,397.24 233.68,397.24 234.11,397.24 234.53,397.24 234.96,397.24 235.39,397.24 235.81,397.24 236.24,397.24 236.67,397.24 237.10,397.24 237.52,397.24 237.95,397.24 238.38,397.24 238.81,397.24 239.23,397.24 239.66,397.24 240.09,397.24 240.51,397.24 240.94,397.24 241.37,397.24 241.80,397.24 242.22,397.24 242.65,397.24 243.08,397.24 243.50,397.24 243.93,397.24 244.36,397.24 244.79,397.24 245.21,397.24 245.64,397.24 246.07,397.24 246.49,397.24 246.92,397.24 247.35,397.24 247.78,397.24 248.20,397.24 248.63,397.24 249.06,397.24 249.48,397.24 249.91,397.24 250.34,397.24 250.77,397.24 251.19,397.24 251.62,397.24 252.05,397.24 252.47,397.24 252.90,397.24 253.33,397.24 253.76,397.24 254.18,397.24 254.61,397.24 255.04,397.24 255.46,397.24 255.89,397.24 256.32,397.24 256.75,397.24 257.17,397.24 257.60,397.24 258.03,397.24 258.45,397.24 258.88,397.24 259.31,397.24 259.74,397.24 260.16,397.24 260.59,397.24 261.02,397.24 261.44,397.24 261.87,397.24 262.30,397.24 262.73,397.24 263.15,397.24 263.58,397.24 264.01,397.24 264.44,397.24 264.86,397.24 265.29,397.24 265.72,397.24 266.14,397.24 266.57,397.24 267.00,397.24 267.43,397.24 267.85,397.24 268.28,397.24 268.71,397.24 269.13,397.24 269.56,397.24 269.99,397.24 270.42,397.24 270.84,397.24 271.27,397.24 271.70,397.24 272.12,397.23 272.55,397.23 272.98,397.23 273.41,397.23 273.83,397.23 274.26,397.23 274.69,397.23 275.11,397.23 275.54,397.23 275.97,397.23 276.40,397.23 276.82,397.22 277.25,397.22 277.68,397.22 278.10,397.21 278.53,397.21 278.96,397.20 279.39,397.19 279.81,397.19 280.24,397.18 280.67,397.16 281.09,397.15 281.52,397.14 281.95,397.12 282.38,397.10 282.80,397.07 283.23,397.05 283.66,397.01 284.08,396.98 284.51,396.94 284.94,396.89 285.37,396.83 285.79,396.77 286.22,396.69 286.65,396.60 287.07,396.50 287.50,396.37 287.93,396.21 288.36,396.02 288.78,395.79 289.21,395.50 289.64,395.14 290.07,394.70 290.49,394.15 290.92,393.47 291.35,392.63 291.77,391.61 292.20,390.37 292.63,388.89 293.06,387.12 293.48,385.04 293.91,382.62 294.34,379.83 294.76,376.68 295.19,373.15 295.62,369.27 296.05,365.04 296.47,360.53 296.90,355.79 297.33,350.90 297.75,345.96 298.18,341.08 298.61,336.37 299.04,331.95 299.46,327.96 299.89,324.51 300.32,321.70 300.74,319.62 301.17,318.35 301.60,317.92 302.03,318.19 302.45,319.01 302.88,320.34 303.31,322.17 303.73,324.45 304.16,327.13 304.59,330.17 305.02,333.50 305.44,337.05 305.87,340.77 306.30,344.59 306.72,348.44 307.15,352.29 307.58,356.06 308.01,359.72 308.43,363.23 308.86,366.57 309.29,369.70 309.71,372.61 310.14,375.29 310.57,377.74 311.00,379.96 311.42,381.95 311.85,383.73 312.28,385.31 312.70,386.70 313.13,387.90 313.56,388.95 313.99,389.85 314.41,390.62 314.84,391.26 315.27,391.79 315.70,392.21 316.12,392.54 316.55,392.78 316.98,392.93 317.40,393.00 317.83,393.00 318.26,392.91 318.69,392.75 319.11,392.52 319.54,392.22 319.97,391.86 320.39,391.43 320.82,390.95 321.25,390.43 321.68,389.88 322.10,389.30 322.53,388.71 322.96,388.14 323.38,387.58 323.81,387.06 324.24,386.60 324.67,386.20 325.09,385.88 325.52,385.65 325.95,385.53 326.37,385.50 326.80,385.56 327.23,385.65 327.66,385.78 328.08,385.96 328.51,386.17 328.94,386.43 329.36,386.71 329.79,387.03 330.22,387.37 330.65,387.74 331.07,388.13 331.50,388.53 331.93,388.95 332.35,389.37 332.78,389.80 333.21,390.23 333.64,390.66 334.06,391.08 334.49,391.49 334.92,391.89 335.34,392.28 335.77,392.65 336.20,393.01 336.63,393.35 337.05,393.67 337.48,393.97 337.91,394.25 338.33,394.51 338.76,394.75 339.19,394.98 339.62,395.19 340.04,395.37 340.47,395.55 340.90,395.70 341.33,395.85 341.75,395.98 342.18,396.09 342.61,396.20 343.03,396.29 343.46,396.38 343.89,396.46 344.32,396.53 344.74,396.59 345.17,396.65 345.60,396.70 346.02,396.74 346.45,396.78 346.88,396.82 347.31,396.86 347.73,396.89 348.16,396.92 348.59,396.94 349.01,396.97 349.44,396.99 349.87,397.01 350.30,397.03 350.72,397.04 351.15,397.06"/><polyline points="223.70,397.24 224.13,397.24 224.55,397.24 224.98,397.24 225.41,397.24 225.84,397.24 226.26,397.24 226.69,397.24 227.12,397.24 227.54,397.24 227.97,397.24 228.40,397.24 228.83,397.24 229.25,397.24 229.68,397.24 230.11,397.24 230.53,397.24 230.96,397.24 231.39,397.24 231.82,397.24 232.24,397.24 232.67,397.24 233.10,397.24 233.52,397.24 233.95,397.24 234.38,397.24 234.81,397.24 235.23,397.24 235.66,397.24 236.09,397.24 236.51,397.24 236.94,397.24 237.37,397.24 237.80,397.24 238.22,397.24 238.65,397.24 239.08,397.24 239.51,397.24 239.93,397.24 240.36,397.24 240.79,397.24 241.21,397.24 241.64,397.24 242.07,397.24 242.50,397.24 242.92,397.24 243.35,397.24 243.78,397.24 244.20,397.24 244.63,397.24 245.06,397.24 245.49,397.24 245.91,397.24 246.34,397.24 246.77,397.24 247.19,397.24 247.62,397.24 248.05,397.24 248.48,397.24 248.90,397.24 249.33,397.24 249.76,397.24 250.18,397.24 250.61,397.24 251.04,397.24 251.47,397.24 251.89,397.24 252.32,397.24 252.75,397.24 253.17,397.24 253.60,397.24 254.03,397.24 254.46,397.24 254.88,397.24 255.31,397.24 255.74,397.24 256.16,397.24 256.59,397.24 257.02,397.24 257.45,397.24 257.87,397.24 258.30,397.24 258.73,397.24 259.15,397.24 259.58,397.24 260.01,397.24 260.44,397.24 260.86,397.24 261.29,397.24 261.72,397.24 262.15,397.24 262.57,397.24 263.00,397.24 263.43,397.24 263.85,397.24 264.28,397.24 264.71,397.24 265.14,397.24 265.56,397.24 265.99,397.24 266.42,397.24 266.84,397.24 267.27,397.24 267.70,397.24 268.13,397.24 268.55,397.24 268.98,397.24 269.41,397.24 269.83,397.24 270.26,397.24 270.69,397.24 271.12,397.24 271.54,397.24 271.97,397.24 272.40,397.24 272.82,397.23 273.25,397.23 273.68,397.23 274.11,397.23 274.53,397.23 274.96,397.23 275.39,397.23 275.81,397.23 276.24,397.23 276.67,397.23 277.10,397.23 277.52,397.22 277.95,397.22 278.38,397.22 278.80,397.21 279.23,397.21 279.66,397.20 280.09,397.19 280.51,397.19 280.94,397.18 281.37,397.16 281.79,397.15 282.22,397.14 282.65,397.12 283.08,397.10 283.50,397.07 283.93,397.05 284.36,397.01 284.78,396.98 285.21,396.94 285.64,396.89 286.07,396.83 286.49,396.77 286.92,396.69 287.35,396.60 287.78,396.50 288.20,396.37 288.63,396.21 289.06,396.02 289.48,395.79 289.91,395.50 290.34,395.14 290.77,394.70 291.19,394.15 291.62,393.47 292.05,392.63 292.47,391.61 292.90,390.37 293.33,388.89 293.76,387.12 294.18,385.04 294.61,382.62 295.04,379.83 295.46,376.68 295.89,373.15 296.32,369.27 296.75,365.04 297.17,360.53 297.60,355.79 298.03,350.90 298.45,345.96 298.88,341.08 299.31,336.37 299.74,331.95 300.16,327.96 300.59,324.51 301.02,321.70 301.44,319.62 301.87,318.35 302.30,317.92 302.73,318.19 303.15,319.01 303.58,320.34 304.01,322.17 304.43,324.45 304.86,327.13 305.29,330.17 305.72,333.50 306.14,337.05 306.57,340.77 307.00,344.59 307.42,348.44 307.85,352.29 308.28,356.06 308.71,359.72 309.13,363.23 309.56,366.57 309.99,369.70 310.41,372.61 310.84,375.29 311.27,377.74 311.70,379.96 312.12,381.95 312.55,383.73 312.98,385.31 313.41,386.70 313.83,387.90 314.26,388.95 314.69,389.85 315.11,390.62 315.54,391.26 315.97,391.79 316.40,392.21 316.82,392.54 317.25,392.78 317.68,392.93 318.10,393.00 318.53,393.00 318.96,392.91 319.39,392.75 319.81,392.52 320.24,392.22 320.67,391.86 321.09,391.43 321.52,390.95 321.95,390.43 322.38,389.88 322.80,389.30 323.23,388.71 323.66,388.14 324.08,387.58 324.51,387.06 324.94,386.60 325.37,386.20 325.79,385.88 326.22,385.65 326.65,385.53 327.07,385.50 327.50,385.56 327.93,385.65 328.36,385.78 328.78,385.96 329.21,386.17 329.64,386.43 330.06,386.71 330.49,387.03 330.92,387.37 331.35,387.74 331.77,388.13 332.20,388.53 332.63,388.95 333.05,389.37 333.48,389.80 333.91,390.23 334.34,390.66 334.76,391.08 335.19,391.49 335.62,391.89 336.04,392.28 336.47,392.65 336.90,393.01 337.33,393.35 337.75,393.67 338.18,393.97 338.61,394.25 339.04,394.51 339.46,394.75 339.89,394.98 340.32,395.19 340.74,395.37 341.17,395.55 341.60,395.70 342.03,395.85 342.45,395.98 342.88,396.09 343.31,396.20 343.73,396.29 344.16,396.38 344.59,396.46 345.02,396.53 345.44,396.59 345.87,396.65 346.30,396.70 346.72,396.74 347.15,396.78 347.58,396.82 348.01,396.86 348.43,396.89 348.86,396.92 349.29,396.94 349.71,396.97 350.14,396.99 350.57,397.01 351.00,397.03 351.42,397.04 351.85,397.06"/></g>
</g>
<g>
<rect x="386.35" y="295.40" width="127.35" height="106.10" fill="none" stroke="#000" stroke-width="1.35"/>
<path d="M386.35 401.50v5.7M428.80 401.50v5.7M471.25 401.50v5.7M513.70 401.50v5.7M386.35 401.50h-5.7M386.35 380.28h-5.7M386.35 359.06h-5.7M386.35 337.84h-5.7M386.35 316.62h-5.7M386.35 295.40h-5.7" stroke="#000" stroke-width="1.1" fill="none"/>
<path d="M394.84 401.50v3.3M403.33 401.50v3.3M411.82 401.50v3.3M420.31 401.50v3.3M437.29 401.50v3.3M445.78 401.50v3.3M454.27 401.50v3.3M462.76 401.50v3.3M479.74 401.50v3.3M488.23 401.50v3.3M496.72 401.50v3.3M505.21 401.50v3.3M386.35 390.89h-3.3M386.35 369.67h-3.3M386.35 348.45h-3.3M386.35 327.23h-3.3M386.35 306.01h-3.3" stroke="#000" stroke-width="0.8" fill="none"/>
<g font-family='"Liberation Serif", serif' font-weight="bold" font-size="9.6" fill="#000" stroke="#000" stroke-width="0.25">
<text x="386.35" y="419.10" text-anchor="middle">20</text>
<text x="428.80" y="419.10" text-anchor="middle">30</text>
<text x="471.25" y="419.10" text-anchor="middle">40</text>
<text x="513.70" y="419.10" text-anchor="middle">50</text>
<text x="378.35" y="406.00" text-anchor="end">0</text>
<text x="377.35" y="384.78" text-anchor="end">0.05</text>
<text x="377.35" y="363.56" text-anchor="end">0.1</text>
<text x="377.35" y="342.34" text-anchor="end">0.15</text>
<text x="377.35" y="321.12" text-anchor="end">0.2</text>
<text x="377.35" y="299.90" text-anchor="end">0.25</text>
</g>
<text transform="translate(392.00 315.20) scale(0.839 1.017)" font-family='"Liberation Sans", sans-serif' font-weight="bold" font-size="24" fill="#000" stroke="#000" stroke-width="0.7" stroke-linejoin="miter">I</text>
<g fill="none" stroke="#000" stroke-width="2.5" stroke-linejoin="round" stroke-linecap="round"><polyline points="386.00,397.36 386.42,397.36 386.85,397.35 387.27,397.35 387.70,397.34 388.12,397.33 388.55,397.31 388.97,397.30 389.40,397.28 389.82,397.26 390.25,397.23 390.67,397.20 391.09,397.17 391.52,397.13 391.94,397.09 392.37,397.04 392.79,396.99 393.22,396.93 393.64,396.87 394.07,396.80 394.49,396.72 394.91,396.64 395.34,396.55 395.76,396.46 396.19,396.36 396.61,396.26 397.04,396.16 397.46,396.06 397.89,395.95 398.31,395.85 398.74,395.75 399.16,395.65 399.58,395.56 400.01,395.47 400.43,395.39 400.86,395.31 401.28,395.25 401.71,395.19 402.13,395.15 402.56,395.11 402.98,395.09 403.40,395.07 403.83,395.06 404.25,395.04 404.68,395.03 405.10,395.02 405.53,395.00 405.95,394.99 406.38,394.98 406.80,394.97 407.23,394.96 407.65,394.95 408.07,394.95 408.50,394.94 408.92,394.93 409.35,394.93 409.77,394.92 410.20,394.92 410.62,394.91 411.05,394.91 411.47,394.91 411.89,394.91 412.32,394.91 412.74,394.91 413.17,394.91 413.59,394.91 414.02,394.92 414.44,394.92 414.87,394.92 415.29,394.93 415.72,394.94 416.14,394.94 416.56,394.95 416.99,394.96 417.41,394.97 417.84,394.97 418.26,394.98 418.69,394.98 419.11,394.99 419.54,394.99 419.96,394.98 420.38,394.97 420.81,394.96 421.23,394.94 421.66,394.92 422.08,394.88 422.51,394.84 422.93,394.79 423.36,394.73 423.78,394.65 424.20,394.57 424.63,394.47 425.05,394.36 425.48,394.24 425.90,394.10 426.33,393.96 426.75,393.79 427.18,393.62 427.60,393.43 428.03,393.24 428.45,393.03 428.87,392.82 429.30,392.60 429.72,392.37 430.15,392.15 430.57,391.92 431.00,391.70 431.42,391.48 431.85,391.27 432.27,391.07 432.69,390.88 433.12,390.70 433.54,390.54 433.97,390.38 434.39,390.24 434.82,390.11 435.24,389.98 435.67,389.86 436.09,389.79 436.52,389.76 436.94,389.76 437.36,389.77 437.79,389.74 438.21,389.65 438.64,389.44 439.06,389.09 439.49,388.53 439.91,387.72 440.34,386.62 440.76,385.19 441.19,383.38 441.61,381.17 442.03,378.54 442.46,375.48 442.88,372.01 443.31,368.14 443.73,363.93 444.16,359.43 444.58,354.74 445.01,349.94 445.43,345.16 445.85,340.53 446.28,336.17 446.70,332.23 447.13,328.82 447.55,326.07 447.98,324.06 448.40,322.86 448.83,322.51 449.25,322.82 449.68,323.68 450.10,325.05 450.52,326.91 450.95,329.18 451.37,331.80 451.80,334.70 452.22,337.78 452.65,340.95 453.07,344.12 453.50,347.20 453.92,350.09 454.34,352.71 454.77,354.97 455.19,356.80 455.62,358.13 456.04,358.91 456.47,359.11 456.89,358.69 457.32,357.65 457.74,356.01 458.17,353.78 458.59,351.03 459.01,347.83 459.44,344.26 459.86,340.43 460.29,336.46 460.71,332.49 461.14,328.66 461.56,325.09 461.99,321.94 462.41,319.31 462.83,317.33 463.26,316.07 463.68,315.60 464.11,315.90 464.53,316.82 464.96,318.33 465.38,320.38 465.81,322.95 466.23,325.97 466.66,329.38 467.08,333.10 467.50,337.07 467.93,341.19 468.35,345.39 468.78,349.60 469.20,353.75 469.63,357.79 470.05,361.66 470.48,365.33 470.90,368.75 471.32,371.92 471.75,374.81 472.17,377.43 472.60,379.77 473.02,381.85 473.45,383.67 473.87,385.25 474.30,386.62 474.72,387.77 475.14,388.74 475.57,389.55 475.99,390.20 476.42,390.72 476.84,391.12 477.27,391.41 477.69,391.61 478.12,391.72 478.54,391.76 478.97,391.72 479.39,391.62 479.81,391.47 480.24,391.26 480.66,391.01 481.09,390.73 481.51,390.40 481.94,390.06 482.36,389.69 482.79,389.30 483.21,388.91 483.63,388.52 484.06,388.13 484.48,387.76 484.91,387.41 485.33,387.09 485.76,386.80 486.18,386.55 486.61,386.34 487.03,386.19 487.46,386.08 487.88,386.04 488.30,386.04 488.73,386.09 489.15,386.17 489.58,386.30 490.00,386.45 490.43,386.65 490.85,386.87 491.28,387.12 491.70,387.40 492.12,387.71 492.55,388.03 492.97,388.37 493.40,388.73 493.82,389.10 494.25,389.47 494.67,389.85 495.10,390.22 495.52,390.60 495.95,390.97 496.37,391.34 496.79,391.69 497.22,392.03 497.64,392.36 498.07,392.68 498.49,392.98 498.92,393.27 499.34,393.53 499.77,393.79 500.19,394.02 500.62,394.24 501.04,394.44 501.46,394.63 501.89,394.80 502.31,394.96 502.74,395.11 503.16,395.24 503.59,395.36 504.01,395.47 504.44,395.56 504.86,395.65 505.28,395.73 505.71,395.81 506.13,395.87 506.56,395.93 506.98,395.99 507.41,396.04 507.83,396.08 508.26,396.13 508.68,396.16 509.11,396.20 509.53,396.23 509.95,396.26 510.38,396.29 510.80,396.31 511.23,396.34 511.65,396.36 512.08,396.38 512.50,396.40 512.93,396.42 513.35,396.43"/><polyline points="386.70,397.36 387.12,397.36 387.55,397.35 387.97,397.35 388.40,397.34 388.82,397.33 389.25,397.31 389.67,397.30 390.10,397.28 390.52,397.26 390.95,397.23 391.37,397.20 391.79,397.17 392.22,397.13 392.64,397.09 393.07,397.04 393.49,396.99 393.92,396.93 394.34,396.87 394.77,396.80 395.19,396.72 395.61,396.64 396.04,396.55 396.46,396.46 396.89,396.36 397.31,396.26 397.74,396.16 398.16,396.06 398.59,395.95 399.01,395.85 399.44,395.75 399.86,395.65 400.28,395.56 400.71,395.47 401.13,395.39 401.56,395.31 401.98,395.25 402.41,395.19 402.83,395.15 403.26,395.11 403.68,395.09 404.10,395.07 404.53,395.06 404.95,395.04 405.38,395.03 405.80,395.02 406.23,395.00 406.65,394.99 407.08,394.98 407.50,394.97 407.93,394.96 408.35,394.95 408.77,394.95 409.20,394.94 409.62,394.93 410.05,394.93 410.47,394.92 410.90,394.92 411.32,394.91 411.75,394.91 412.17,394.91 412.59,394.91 413.02,394.91 413.44,394.91 413.87,394.91 414.29,394.91 414.72,394.92 415.14,394.92 415.57,394.92 415.99,394.93 416.42,394.94 416.84,394.94 417.26,394.95 417.69,394.96 418.11,394.97 418.54,394.97 418.96,394.98 419.39,394.98 419.81,394.99 420.24,394.99 420.66,394.98 421.08,394.97 421.51,394.96 421.93,394.94 422.36,394.92 422.78,394.88 423.21,394.84 423.63,394.79 424.06,394.73 424.48,394.65 424.91,394.57 425.33,394.47 425.75,394.36 426.18,394.24 426.60,394.10 427.03,393.96 427.45,393.79 427.88,393.62 428.30,393.43 428.73,393.24 429.15,393.03 429.57,392.82 430.00,392.60 430.42,392.37 430.85,392.15 431.27,391.92 431.70,391.70 432.12,391.48 432.55,391.27 432.97,391.07 433.40,390.88 433.82,390.70 434.24,390.54 434.67,390.38 435.09,390.24 435.52,390.11 435.94,389.98 436.37,389.86 436.79,389.79 437.22,389.76 437.64,389.76 438.06,389.77 438.49,389.74 438.91,389.65 439.34,389.44 439.76,389.09 440.19,388.53 440.61,387.72 441.04,386.62 441.46,385.19 441.89,383.38 442.31,381.17 442.73,378.54 443.16,375.48 443.58,372.01 444.01,368.14 444.43,363.93 444.86,359.43 445.28,354.74 445.71,349.94 446.13,345.16 446.55,340.53 446.98,336.17 447.40,332.23 447.83,328.82 448.25,326.07 448.68,324.06 449.10,322.86 449.53,322.51 449.95,322.82 450.38,323.68 450.80,325.05 451.22,326.91 451.65,329.18 452.07,331.80 452.50,334.70 452.92,337.78 453.35,340.95 453.77,344.12 454.20,347.20 454.62,350.09 455.04,352.71 455.47,354.97 455.89,356.80 456.32,358.13 456.74,358.91 457.17,359.11 457.59,358.69 458.02,357.65 458.44,356.01 458.87,353.78 459.29,351.03 459.71,347.83 460.14,344.26 460.56,340.43 460.99,336.46 461.41,332.49 461.84,328.66 462.26,325.09 462.69,321.94 463.11,319.31 463.53,317.33 463.96,316.07 464.38,315.60 464.81,315.90 465.23,316.82 465.66,318.33 466.08,320.38 466.51,322.95 466.93,325.97 467.36,329.38 467.78,333.10 468.20,337.07 468.63,341.19 469.05,345.39 469.48,349.60 469.90,353.75 470.33,357.79 470.75,361.66 471.18,365.33 471.60,368.75 472.02,371.92 472.45,374.81 472.87,377.43 473.30,379.77 473.72,381.85 474.15,383.67 474.57,385.25 475.00,386.62 475.42,387.77 475.85,388.74 476.27,389.55 476.69,390.20 477.12,390.72 477.54,391.12 477.97,391.41 478.39,391.61 478.82,391.72 479.24,391.76 479.67,391.72 480.09,391.62 480.51,391.47 480.94,391.26 481.36,391.01 481.79,390.73 482.21,390.40 482.64,390.06 483.06,389.69 483.49,389.30 483.91,388.91 484.34,388.52 484.76,388.13 485.18,387.76 485.61,387.41 486.03,387.09 486.46,386.80 486.88,386.55 487.31,386.34 487.73,386.19 488.16,386.08 488.58,386.04 489.00,386.04 489.43,386.09 489.85,386.17 490.28,386.30 490.70,386.45 491.13,386.65 491.55,386.87 491.98,387.12 492.40,387.40 492.83,387.71 493.25,388.03 493.67,388.37 494.10,388.73 494.52,389.10 494.95,389.47 495.37,389.85 495.80,390.22 496.22,390.60 496.65,390.97 497.07,391.34 497.49,391.69 497.92,392.03 498.34,392.36 498.77,392.68 499.19,392.98 499.62,393.27 500.04,393.53 500.47,393.79 500.89,394.02 501.32,394.24 501.74,394.44 502.16,394.63 502.59,394.80 503.01,394.96 503.44,395.11 503.86,395.24 504.29,395.36 504.71,395.47 505.14,395.56 505.56,395.65 505.98,395.73 506.41,395.81 506.83,395.87 507.26,395.93 507.68,395.99 508.11,396.04 508.53,396.08 508.96,396.13 509.38,396.16 509.81,396.20 510.23,396.23 510.65,396.26 511.08,396.29 511.50,396.31 511.93,396.34 512.35,396.36 512.78,396.38 513.20,396.40 513.63,396.42 514.05,396.43"/></g>
</g>
<line x1="91.8" y1="12.4" x2="167.3" y2="97.6" stroke="#000" stroke-width="1.2" stroke-dasharray="2.2 1.3"/>
<line x1="123.6" y1="56.4" x2="166.5" y2="101.8" stroke="#000" stroke-width="1.5"/>
<circle cx="91.8" cy="12.4" r="1.6" fill="#fff" stroke="#000" stroke-width="0.9"/>
<circle cx="122.5" cy="46.2" r="1.6" fill="#fff" stroke="#000" stroke-width="0.9"/>
<circle cx="136.6" cy="66.0" r="1.6" fill="#fff" stroke="#000" stroke-width="0.9"/>
<circle cx="149.3" cy="76.3" r="1.6" fill="#fff" stroke="#000" stroke-width="0.9"/>
<circle cx="167.3" cy="97.6" r="1.6" fill="#fff" stroke="#000" stroke-width="0.9"/>
<circle cx="123.6" cy="56.4" r="3.7" fill="#000"/>
<circle cx="140.6" cy="75.9" r="3.7" fill="#000"/>
<circle cx="162.2" cy="100.1" r="3.7" fill="#000"/>
<circle cx="166.5" cy="101.8" r="3.7" fill="#000"/>
<text x="296.8" y="28.3" font-family='"Liberation Serif", serif' font-weight="normal" font-size="9.4" text-anchor="start" fill="#000" stroke="#000" stroke-width="0.28" textLength="22.2" lengthAdjust="spacingAndGlyphs">39.17'</text>
<text x="254.5" y="71.2" font-family='"Liberation Serif", serif' font-weight="bold" font-size="10.4" text-anchor="start" fill="#000" stroke="#000" stroke-width="0.25" textLength="37.0" lengthAdjust="spacingAndGlyphs">sGMRα</text>
<text x="436.2" y="22.5" font-family='"Liberation Serif", serif' font-weight="normal" font-size="9.4" text-anchor="start" fill="#000" stroke="#000" stroke-width="0.28" textLength="25.5" lengthAdjust="spacingAndGlyphs">34.75'</text>
<text x="422.7" y="70.6" font-family='"Liberation Serif", serif' font-weight="bold" font-size="10.4" text-anchor="start" fill="#000" stroke="#000" stroke-width="0.25" textLength="15.0" lengthAdjust="spacingAndGlyphs">sβc</text>
<text x="155.5" y="179.2" font-family='"Liberation Serif", serif' font-weight="normal" font-size="9.4" text-anchor="start" fill="#000" stroke="#000" stroke-width="0.28" textLength="23.5" lengthAdjust="spacingAndGlyphs">44.56'</text>
<text x="112.8" y="217.3" font-family='"Liberation Serif", serif' font-weight="bold" font-size="10.4" text-anchor="start" fill="#000" stroke="#000" stroke-width="0.25" textLength="41.2" lengthAdjust="spacingAndGlyphs">GM-CSF</text>
<text x="293.0" y="166.2" font-family='"Liberation Serif", serif' font-weight="normal" font-size="9.4" text-anchor="start" fill="#000" stroke="#000" stroke-width="0.28" textLength="24.5" lengthAdjust="spacingAndGlyphs">38.51'</text>
<text x="277.6" y="215.8" font-family='"Liberation Serif", serif' font-weight="bold" font-size="10.4" text-anchor="start" fill="#000" stroke="#000" stroke-width="0.25" textLength="14.9" lengthAdjust="spacingAndGlyphs">BC</text>
<text x="318.9" y="225.4" font-family='"Liberation Serif", serif' font-weight="normal" font-size="9.4" text-anchor="start" fill="#000" stroke="#000" stroke-width="0.28" textLength="25.0" lengthAdjust="spacingAndGlyphs">44.59'</text>
<text x="428.5" y="164.2" font-family='"Liberation Serif", serif' font-weight="normal" font-size="9.4" text-anchor="start" fill="#000" stroke="#000" stroke-width="0.28" textLength="25.2" lengthAdjust="spacingAndGlyphs">32.67'</text>
<text x="454.6" y="199.2" font-family='"Liberation Serif", serif' font-weight="normal" font-size="9.4" text-anchor="start" fill="#000" stroke="#000" stroke-width="0.28" textLength="25.2" lengthAdjust="spacingAndGlyphs">38.40'</text>
<text x="417.0" y="216.1" font-family='"Liberation Serif", serif' font-weight="bold" font-size="10.4" text-anchor="start" fill="#000" stroke="#000" stroke-width="0.25" textLength="14.4" lengthAdjust="spacingAndGlyphs">TC</text>
<text x="472.9" y="216.1" font-family='"Liberation Serif", serif' font-weight="bold" font-size="10.4" text-anchor="start" fill="#000" stroke="#000" stroke-width="0.25" textLength="14.5" lengthAdjust="spacingAndGlyphs">BC</text>
<text x="480.9" y="233.2" font-family='"Liberation Serif", serif' font-weight="normal" font-size="9.4" text-anchor="start" fill="#000" stroke="#000" stroke-width="0.28" textLength="24.8" lengthAdjust="spacingAndGlyphs">44.61'</text>
<text x="154.5" y="335.6" font-family='"Liberation Serif", serif' font-weight="normal" font-size="9.4" text-anchor="start" fill="#000" stroke="#000" stroke-width="0.28" textLength="24.9" lengthAdjust="spacingAndGlyphs">44.11'</text>
<text x="128.2" y="359.6" font-family='"Liberation Serif", serif' font-weight="bold" font-size="10.4" text-anchor="start" fill="#000" stroke="#000" stroke-width="0.25" textLength="24.9" lengthAdjust="spacingAndGlyphs">E21R</text>
<text x="290.1" y="310.8" font-family='"Liberation Serif", serif' font-weight="normal" font-size="9.4" text-anchor="start" fill="#000" stroke="#000" stroke-width="0.28" textLength="24.9" lengthAdjust="spacingAndGlyphs">38.40'</text>
<text x="276.6" y="359.4" font-family='"Liberation Serif", serif' font-weight="bold" font-size="10.4" text-anchor="start" fill="#000" stroke="#000" stroke-width="0.25" textLength="14.9" lengthAdjust="spacingAndGlyphs">BC</text>
<text x="315.6" y="378.5" font-family='"Liberation Serif", serif' font-weight="normal" font-size="9.4" text-anchor="start" fill="#000" stroke="#000" stroke-width="0.28" textLength="24.8" lengthAdjust="spacingAndGlyphs">44.03'</text>
<text x="451.3" y="310.2" font-family='"Liberation Serif", serif' font-weight="normal" font-size="9.4" text-anchor="start" fill="#000" stroke="#000" stroke-width="0.28" textLength="25.5" lengthAdjust="spacingAndGlyphs">38.32'</text>
<text x="432.8" y="319.6" font-family='"Liberation Serif", serif' font-weight="normal" font-size="9.4" text-anchor="start" fill="#000" stroke="#000" stroke-width="0.28" textLength="25.1" lengthAdjust="spacingAndGlyphs">34.80'</text>
<text x="426.2" y="360.0" font-family='"Liberation Serif", serif' font-weight="bold" font-size="10.4" text-anchor="start" fill="#000" stroke="#000" stroke-width="0.25" textLength="15.7" lengthAdjust="spacingAndGlyphs">sβc</text>
<text x="477.0" y="359.3" font-family='"Liberation Serif", serif' font-weight="bold" font-size="10.4" text-anchor="start" fill="#000" stroke="#000" stroke-width="0.25" textLength="14.8" lengthAdjust="spacingAndGlyphs">BC</text>
<text x="481.9" y="379.7" font-family='"Liberation Serif", serif' font-weight="normal" font-size="9.4" text-anchor="start" fill="#000" stroke="#000" stroke-width="0.28" textLength="25.6" lengthAdjust="spacingAndGlyphs">44.05'</text>
<text transform="translate(13.7 345.00) rotate(-90)" font-family='"Liberation Serif", serif' font-weight="bold" font-size="18" textLength="90.1" lengthAdjust="spacingAndGlyphs" fill="#000" stroke="#000" stroke-width="0.3">Absorbance</text>
<text transform="translate(13.7 250.20) rotate(-90)" font-family='"Liberation Serif", serif' font-weight="bold" font-size="18" textLength="15.8" lengthAdjust="spacingAndGlyphs" fill="#000" stroke="#000" stroke-width="0.3">@</text>
<text transform="translate(13.7 228.70) rotate(-90)" font-family='"Liberation Serif", serif' font-weight="bold" font-size="18" textLength="24.3" lengthAdjust="spacingAndGlyphs" fill="#000" stroke="#000" stroke-width="0.3">280</text>
<text transform="translate(13.7 198.20) rotate(-90)" font-family='"Liberation Serif", serif' font-weight="bold" font-size="18" textLength="22.0" lengthAdjust="spacingAndGlyphs" fill="#000" stroke="#000" stroke-width="0.3">nm</text>
<text x="216.20" y="443.6" font-family='"Liberation Serif", serif' font-weight="bold" font-size="18" textLength="53.3" lengthAdjust="spacingAndGlyphs" fill="#000" stroke="#000" stroke-width="0.3">Elution</text>
<text x="274.30" y="443.6" font-family='"Liberation Serif", serif' font-weight="bold" font-size="18" textLength="37.1" lengthAdjust="spacingAndGlyphs" fill="#000" stroke="#000" stroke-width="0.3">Time</text>
<text x="316.90" y="443.6" font-family='"Liberation Serif", serif' font-weight="bold" font-size="18" textLength="41.2" lengthAdjust="spacingAndGlyphs" fill="#000" stroke="#000" stroke-width="0.3">(min)</text>
<text transform="translate(30.5 91.8) rotate(-90)" font-family='"Liberation Serif", serif' font-weight="bold" font-size="9.8" fill="#000" stroke="#000" stroke-width="0.25" textLength="66.5" lengthAdjust="spacingAndGlyphs">Log (MWx 10<tspan dy="-3.8" font-size="10.5">-3</tspan><tspan dy="3.8">)</tspan></text>
</svg>
</body></html>
